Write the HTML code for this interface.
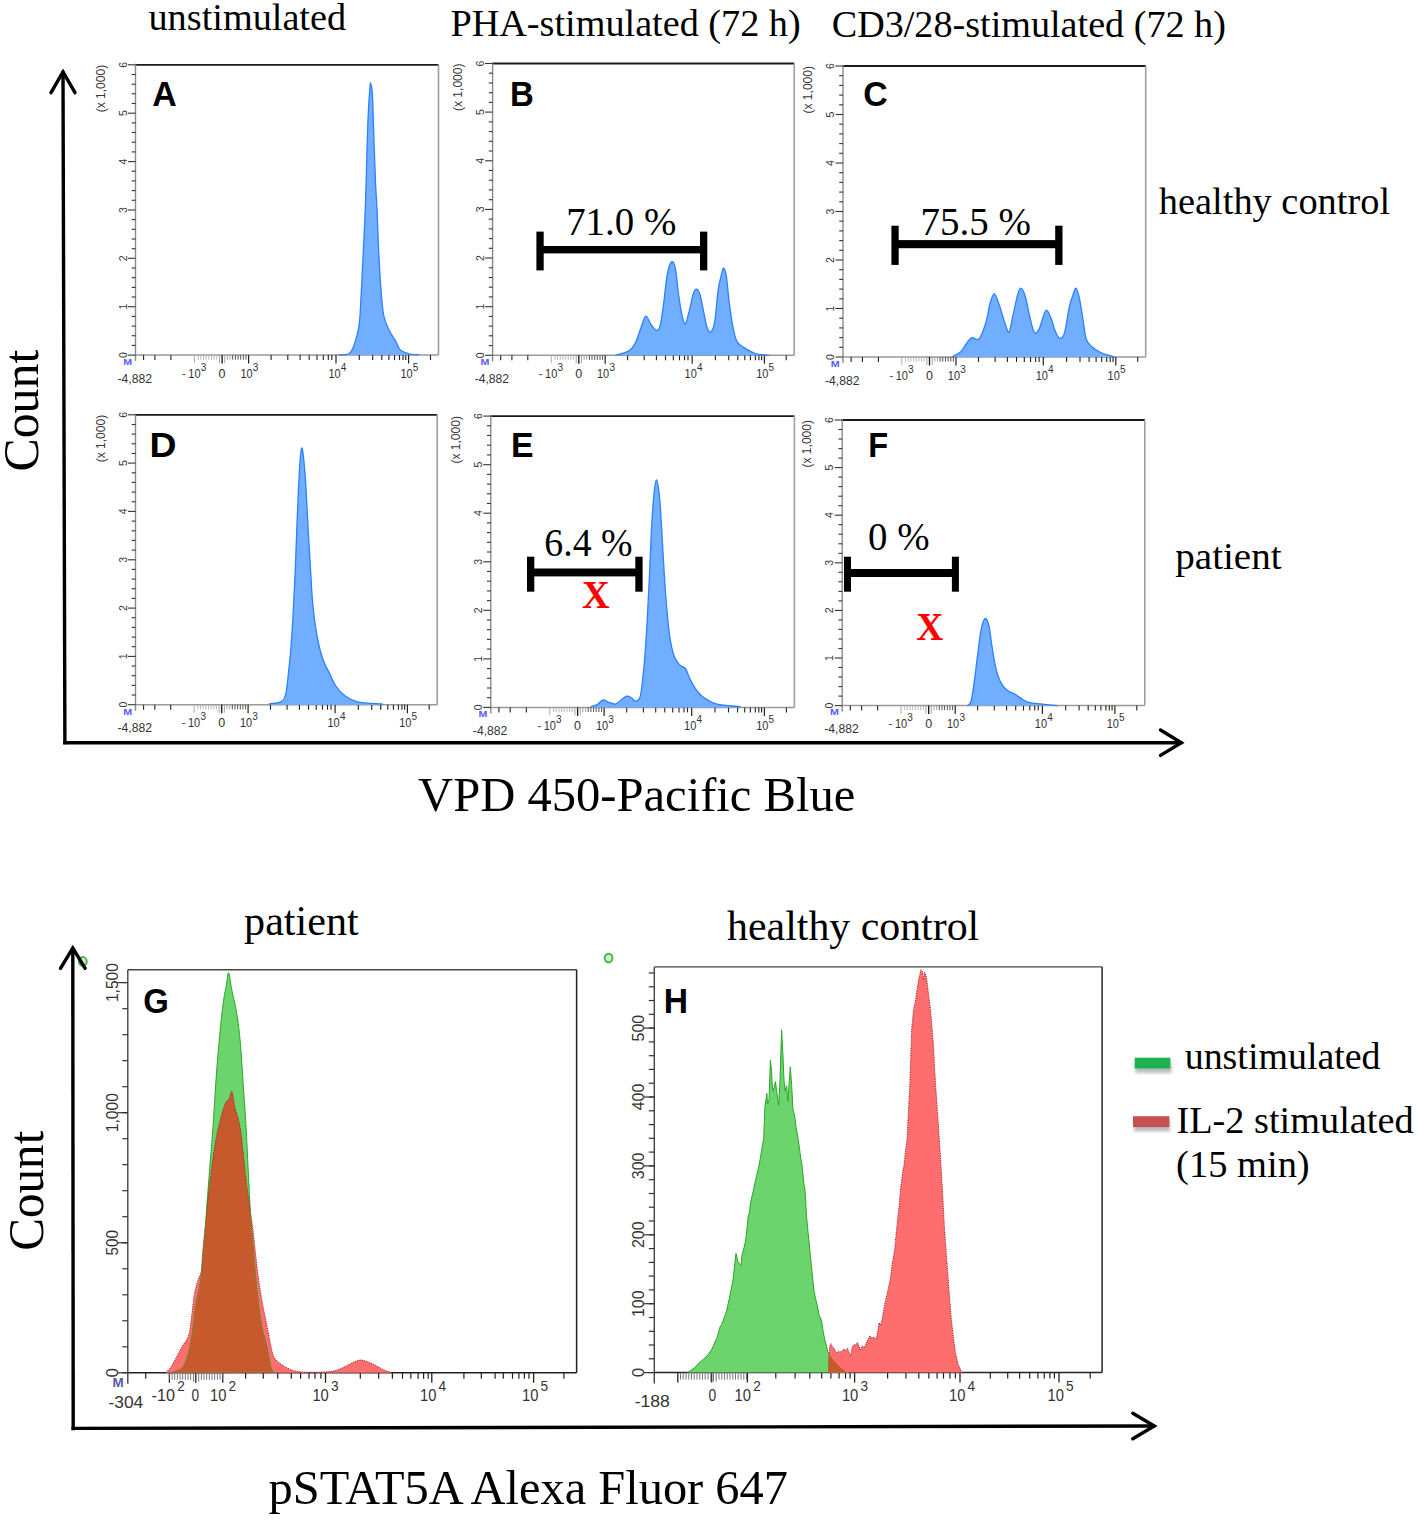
<!DOCTYPE html>
<html><head><meta charset="utf-8"><title>Figure</title>
<style>html,body{margin:0;padding:0;background:#fff;}body{width:1418px;height:1520px;overflow:hidden;}svg{display:block;}</style>
</head><body>
<svg width="1418" height="1520" viewBox="0 0 1418 1520">
<rect width="1418" height="1520" fill="#fff"/>
<text x="148.5" y="30.3" style="font-family:'Liberation Serif',serif;font-size:38px;font-weight:normal" fill="#000" text-anchor="start" textLength="197.6" lengthAdjust="spacingAndGlyphs" >unstimulated</text>
<text x="450.4" y="36.4" style="font-family:'Liberation Serif',serif;font-size:38px;font-weight:normal" fill="#000" text-anchor="start" textLength="350.3" lengthAdjust="spacingAndGlyphs" >PHA-stimulated (72 h)</text>
<text x="831.7" y="37.0" style="font-family:'Liberation Serif',serif;font-size:38px;font-weight:normal" fill="#000" text-anchor="start" textLength="394.2" lengthAdjust="spacingAndGlyphs" >CD3/28-stimulated (72 h)</text>
<text x="1158.8" y="214.1" style="font-family:'Liberation Serif',serif;font-size:38.2px;font-weight:normal" fill="#000" text-anchor="start" textLength="231.3" lengthAdjust="spacingAndGlyphs" >healthy control</text>
<text x="1175.3" y="569.4" style="font-family:'Liberation Serif',serif;font-size:38.7px;font-weight:normal" fill="#000" text-anchor="start" textLength="106.2" lengthAdjust="spacingAndGlyphs" >patient</text>
<text transform="translate(38.2,471.6) rotate(-90)" style="font-family:'Liberation Serif',serif;font-size:50px;font-weight:normal" fill="#000" text-anchor="start" textLength="121.9" lengthAdjust="spacingAndGlyphs">Count</text>
<text x="418.1" y="810.8" style="font-family:'Liberation Serif',serif;font-size:48.3px;font-weight:normal" fill="#000" text-anchor="start" textLength="437.2" lengthAdjust="spacingAndGlyphs" >VPD 450-Pacific Blue</text>
<line x1="135.5" y1="64.8" x2="438.5" y2="64.8" stroke="#1a1a1a" stroke-width="1.8" stroke-linecap="butt"/>
<line x1="438.5" y1="64.8" x2="438.5" y2="355.1" stroke="#a0a0a0" stroke-width="1.6" stroke-linecap="butt"/>
<line x1="135.5" y1="355.1" x2="438.5" y2="355.1" stroke="#9a9a9a" stroke-width="1.5" stroke-linecap="butt"/>
<line x1="135.5" y1="63.8" x2="135.5" y2="361.1" stroke="#8a8a8a" stroke-width="1.4" stroke-linecap="butt"/>
<line x1="128.0" y1="355.1" x2="135.5" y2="355.1" stroke="#333" stroke-width="1.1" stroke-linecap="butt"/>
<line x1="131.7" y1="345.4" x2="135.5" y2="345.4" stroke="#333" stroke-width="1.1" stroke-linecap="butt"/>
<line x1="131.7" y1="335.7" x2="135.5" y2="335.7" stroke="#333" stroke-width="1.1" stroke-linecap="butt"/>
<line x1="131.7" y1="326.1" x2="135.5" y2="326.1" stroke="#333" stroke-width="1.1" stroke-linecap="butt"/>
<line x1="131.7" y1="316.4" x2="135.5" y2="316.4" stroke="#333" stroke-width="1.1" stroke-linecap="butt"/>
<line x1="128.0" y1="306.7" x2="135.5" y2="306.7" stroke="#333" stroke-width="1.1" stroke-linecap="butt"/>
<line x1="131.7" y1="297.0" x2="135.5" y2="297.0" stroke="#333" stroke-width="1.1" stroke-linecap="butt"/>
<line x1="131.7" y1="287.4" x2="135.5" y2="287.4" stroke="#333" stroke-width="1.1" stroke-linecap="butt"/>
<line x1="131.7" y1="277.7" x2="135.5" y2="277.7" stroke="#333" stroke-width="1.1" stroke-linecap="butt"/>
<line x1="131.7" y1="268.0" x2="135.5" y2="268.0" stroke="#333" stroke-width="1.1" stroke-linecap="butt"/>
<line x1="128.0" y1="258.3" x2="135.5" y2="258.3" stroke="#333" stroke-width="1.1" stroke-linecap="butt"/>
<line x1="131.7" y1="248.7" x2="135.5" y2="248.7" stroke="#333" stroke-width="1.1" stroke-linecap="butt"/>
<line x1="131.7" y1="239.0" x2="135.5" y2="239.0" stroke="#333" stroke-width="1.1" stroke-linecap="butt"/>
<line x1="131.7" y1="229.3" x2="135.5" y2="229.3" stroke="#333" stroke-width="1.1" stroke-linecap="butt"/>
<line x1="131.7" y1="219.6" x2="135.5" y2="219.6" stroke="#333" stroke-width="1.1" stroke-linecap="butt"/>
<line x1="128.0" y1="210.0" x2="135.5" y2="210.0" stroke="#333" stroke-width="1.1" stroke-linecap="butt"/>
<line x1="131.7" y1="200.3" x2="135.5" y2="200.3" stroke="#333" stroke-width="1.1" stroke-linecap="butt"/>
<line x1="131.7" y1="190.6" x2="135.5" y2="190.6" stroke="#333" stroke-width="1.1" stroke-linecap="butt"/>
<line x1="131.7" y1="180.9" x2="135.5" y2="180.9" stroke="#333" stroke-width="1.1" stroke-linecap="butt"/>
<line x1="131.7" y1="171.2" x2="135.5" y2="171.2" stroke="#333" stroke-width="1.1" stroke-linecap="butt"/>
<line x1="128.0" y1="161.6" x2="135.5" y2="161.6" stroke="#333" stroke-width="1.1" stroke-linecap="butt"/>
<line x1="131.7" y1="151.9" x2="135.5" y2="151.9" stroke="#333" stroke-width="1.1" stroke-linecap="butt"/>
<line x1="131.7" y1="142.2" x2="135.5" y2="142.2" stroke="#333" stroke-width="1.1" stroke-linecap="butt"/>
<line x1="131.7" y1="132.5" x2="135.5" y2="132.5" stroke="#333" stroke-width="1.1" stroke-linecap="butt"/>
<line x1="131.7" y1="122.9" x2="135.5" y2="122.9" stroke="#333" stroke-width="1.1" stroke-linecap="butt"/>
<line x1="128.0" y1="113.2" x2="135.5" y2="113.2" stroke="#333" stroke-width="1.1" stroke-linecap="butt"/>
<line x1="131.7" y1="103.5" x2="135.5" y2="103.5" stroke="#333" stroke-width="1.1" stroke-linecap="butt"/>
<line x1="131.7" y1="93.8" x2="135.5" y2="93.8" stroke="#333" stroke-width="1.1" stroke-linecap="butt"/>
<line x1="131.7" y1="84.2" x2="135.5" y2="84.2" stroke="#333" stroke-width="1.1" stroke-linecap="butt"/>
<line x1="131.7" y1="74.5" x2="135.5" y2="74.5" stroke="#333" stroke-width="1.1" stroke-linecap="butt"/>
<line x1="128.0" y1="64.8" x2="135.5" y2="64.8" stroke="#333" stroke-width="1.1" stroke-linecap="butt"/>
<text transform="translate(126.5,355.1) rotate(-90)" style="font-family:'Liberation Sans',sans-serif;font-size:10.5px;font-weight:normal" fill="#333" text-anchor="middle">0</text>
<text transform="translate(126.5,306.7) rotate(-90)" style="font-family:'Liberation Sans',sans-serif;font-size:10.5px;font-weight:normal" fill="#333" text-anchor="middle">1</text>
<text transform="translate(126.5,258.3) rotate(-90)" style="font-family:'Liberation Sans',sans-serif;font-size:10.5px;font-weight:normal" fill="#333" text-anchor="middle">2</text>
<text transform="translate(126.5,210.0) rotate(-90)" style="font-family:'Liberation Sans',sans-serif;font-size:10.5px;font-weight:normal" fill="#333" text-anchor="middle">3</text>
<text transform="translate(126.5,161.6) rotate(-90)" style="font-family:'Liberation Sans',sans-serif;font-size:10.5px;font-weight:normal" fill="#333" text-anchor="middle">4</text>
<text transform="translate(126.5,113.2) rotate(-90)" style="font-family:'Liberation Sans',sans-serif;font-size:10.5px;font-weight:normal" fill="#333" text-anchor="middle">5</text>
<text transform="translate(126.5,64.8) rotate(-90)" style="font-family:'Liberation Sans',sans-serif;font-size:10.5px;font-weight:normal" fill="#333" text-anchor="middle">6</text>
<text transform="translate(104.7,112.3) rotate(-90)" style="font-family:'Liberation Sans',sans-serif;font-size:12px;font-weight:normal" fill="#333" text-anchor="start" textLength="47.5" lengthAdjust="spacingAndGlyphs">(x 1,000)</text>
<line x1="143.6" y1="355.1" x2="143.6" y2="360.1" stroke="#222" stroke-width="1.1" stroke-linecap="butt"/>
<line x1="154.9" y1="355.1" x2="154.9" y2="360.1" stroke="#222" stroke-width="1.1" stroke-linecap="butt"/>
<line x1="170.9" y1="355.1" x2="170.9" y2="360.1" stroke="#222" stroke-width="1.1" stroke-linecap="butt"/>
<line x1="271.1" y1="355.1" x2="271.1" y2="360.1" stroke="#222" stroke-width="1.1" stroke-linecap="butt"/>
<line x1="287.8" y1="355.1" x2="287.8" y2="360.1" stroke="#222" stroke-width="1.1" stroke-linecap="butt"/>
<line x1="300.1" y1="355.1" x2="300.1" y2="360.1" stroke="#222" stroke-width="1.1" stroke-linecap="butt"/>
<line x1="309.2" y1="355.1" x2="309.2" y2="360.1" stroke="#222" stroke-width="1.1" stroke-linecap="butt"/>
<line x1="317.0" y1="355.1" x2="317.0" y2="360.1" stroke="#222" stroke-width="1.1" stroke-linecap="butt"/>
<line x1="323.3" y1="355.1" x2="323.3" y2="360.1" stroke="#222" stroke-width="1.1" stroke-linecap="butt"/>
<line x1="328.3" y1="355.1" x2="328.3" y2="360.1" stroke="#222" stroke-width="1.1" stroke-linecap="butt"/>
<line x1="331.8" y1="355.1" x2="331.8" y2="360.1" stroke="#222" stroke-width="1.1" stroke-linecap="butt"/>
<line x1="359.3" y1="355.1" x2="359.3" y2="360.1" stroke="#222" stroke-width="1.1" stroke-linecap="butt"/>
<line x1="372.7" y1="355.1" x2="372.7" y2="360.1" stroke="#222" stroke-width="1.1" stroke-linecap="butt"/>
<line x1="381.8" y1="355.1" x2="381.8" y2="360.1" stroke="#222" stroke-width="1.1" stroke-linecap="butt"/>
<line x1="388.9" y1="355.1" x2="388.9" y2="360.1" stroke="#222" stroke-width="1.1" stroke-linecap="butt"/>
<line x1="394.5" y1="355.1" x2="394.5" y2="360.1" stroke="#222" stroke-width="1.1" stroke-linecap="butt"/>
<line x1="399.5" y1="355.1" x2="399.5" y2="360.1" stroke="#222" stroke-width="1.1" stroke-linecap="butt"/>
<line x1="403.0" y1="355.1" x2="403.0" y2="360.1" stroke="#222" stroke-width="1.1" stroke-linecap="butt"/>
<line x1="405.8" y1="355.1" x2="405.8" y2="360.1" stroke="#222" stroke-width="1.1" stroke-linecap="butt"/>
<line x1="430.5" y1="355.1" x2="430.5" y2="360.1" stroke="#222" stroke-width="1.1" stroke-linecap="butt"/>
<line x1="248.6" y1="355.1" x2="248.6" y2="363.6" stroke="#222" stroke-width="1.2" stroke-linecap="butt"/>
<line x1="336.0" y1="355.1" x2="336.0" y2="363.6" stroke="#222" stroke-width="1.2" stroke-linecap="butt"/>
<line x1="408.6" y1="355.1" x2="408.6" y2="363.6" stroke="#222" stroke-width="1.2" stroke-linecap="butt"/>
<line x1="198.2" y1="355.1" x2="198.2" y2="359.7" stroke="#b0b0b0" stroke-width="0.9" stroke-linecap="butt"/>
<line x1="200.8" y1="355.1" x2="200.8" y2="359.7" stroke="#b0b0b0" stroke-width="0.9" stroke-linecap="butt"/>
<line x1="203.5" y1="355.1" x2="203.5" y2="359.7" stroke="#b0b0b0" stroke-width="0.9" stroke-linecap="butt"/>
<line x1="206.1" y1="355.1" x2="206.1" y2="359.7" stroke="#b0b0b0" stroke-width="0.9" stroke-linecap="butt"/>
<line x1="208.8" y1="355.1" x2="208.8" y2="359.7" stroke="#b0b0b0" stroke-width="0.9" stroke-linecap="butt"/>
<line x1="211.5" y1="355.1" x2="211.5" y2="359.7" stroke="#b0b0b0" stroke-width="0.9" stroke-linecap="butt"/>
<line x1="214.1" y1="355.1" x2="214.1" y2="359.7" stroke="#b0b0b0" stroke-width="0.9" stroke-linecap="butt"/>
<line x1="216.8" y1="355.1" x2="216.8" y2="359.7" stroke="#b0b0b0" stroke-width="0.9" stroke-linecap="butt"/>
<line x1="219.4" y1="355.1" x2="219.4" y2="363.1" stroke="#999" stroke-width="0.9" stroke-linecap="butt"/>
<line x1="224.8" y1="355.1" x2="224.8" y2="363.1" stroke="#999" stroke-width="0.9" stroke-linecap="butt"/>
<line x1="227.4" y1="355.1" x2="227.4" y2="359.7" stroke="#999" stroke-width="0.9" stroke-linecap="butt"/>
<line x1="230.1" y1="355.1" x2="230.1" y2="359.7" stroke="#999" stroke-width="0.9" stroke-linecap="butt"/>
<line x1="232.7" y1="355.1" x2="232.7" y2="359.7" stroke="#444" stroke-width="0.9" stroke-linecap="butt"/>
<line x1="235.4" y1="355.1" x2="235.4" y2="359.7" stroke="#444" stroke-width="0.9" stroke-linecap="butt"/>
<line x1="238.1" y1="355.1" x2="238.1" y2="359.7" stroke="#444" stroke-width="0.9" stroke-linecap="butt"/>
<line x1="240.7" y1="355.1" x2="240.7" y2="359.7" stroke="#444" stroke-width="0.9" stroke-linecap="butt"/>
<line x1="243.4" y1="355.1" x2="243.4" y2="359.7" stroke="#444" stroke-width="0.9" stroke-linecap="butt"/>
<line x1="246.0" y1="355.1" x2="246.0" y2="359.7" stroke="#444" stroke-width="0.9" stroke-linecap="butt"/>
<line x1="194.4" y1="355.1" x2="194.4" y2="363.1" stroke="#aaa" stroke-width="1.0" stroke-linecap="butt"/>
<line x1="222.1" y1="355.1" x2="222.1" y2="363.6" stroke="#111" stroke-width="1.3" stroke-linecap="butt"/>
<text x="134.8" y="382.7" style="font-family:'Liberation Sans',sans-serif;font-size:12.5px;font-weight:normal" fill="#333" text-anchor="middle" textLength="34.5" lengthAdjust="spacingAndGlyphs" >-4,882</text>
<text x="185.9" y="377.7" style="font-family:'Liberation Sans',sans-serif;font-size:12.5px;font-weight:normal" fill="#555" text-anchor="end" >-</text>
<text x="194.4" y="377.7" style="font-family:'Liberation Sans',sans-serif;font-size:12.5px;font-weight:normal" fill="#333" text-anchor="middle" textLength="12.2" lengthAdjust="spacingAndGlyphs" >10</text>
<text x="200.7" y="370.7" style="font-family:'Liberation Sans',sans-serif;font-size:10px;font-weight:normal" fill="#333" text-anchor="start" >3</text>
<text x="222.1" y="377.7" style="font-family:'Liberation Sans',sans-serif;font-size:12.5px;font-weight:normal" fill="#333" text-anchor="middle" >0</text>
<text x="246.5" y="377.7" style="font-family:'Liberation Sans',sans-serif;font-size:12.5px;font-weight:normal" fill="#333" text-anchor="middle" textLength="12.2" lengthAdjust="spacingAndGlyphs" >10</text>
<text x="252.8" y="370.7" style="font-family:'Liberation Sans',sans-serif;font-size:10px;font-weight:normal" fill="#333" text-anchor="start" >3</text>
<text x="334.5" y="377.7" style="font-family:'Liberation Sans',sans-serif;font-size:12.5px;font-weight:normal" fill="#333" text-anchor="middle" textLength="12.2" lengthAdjust="spacingAndGlyphs" >10</text>
<text x="340.8" y="370.7" style="font-family:'Liberation Sans',sans-serif;font-size:10px;font-weight:normal" fill="#333" text-anchor="start" >4</text>
<text x="406.5" y="377.7" style="font-family:'Liberation Sans',sans-serif;font-size:12.5px;font-weight:normal" fill="#333" text-anchor="middle" textLength="12.2" lengthAdjust="spacingAndGlyphs" >10</text>
<text x="412.8" y="370.7" style="font-family:'Liberation Sans',sans-serif;font-size:10px;font-weight:normal" fill="#333" text-anchor="start" >5</text>
<text x="123.3" y="364.9" style="font-family:'Liberation Sans',sans-serif;font-size:9.5px;font-weight:bold" fill="#5a5aff" text-anchor="start" textLength="8.9" lengthAdjust="spacingAndGlyphs" >M</text>
<text x="152.2" y="106.3" style="font-family:'Liberation Sans',sans-serif;font-size:34.3px;font-weight:bold" fill="#000" text-anchor="start" textLength="24.5" lengthAdjust="spacingAndGlyphs" >A</text>
<line x1="492.6" y1="63.5" x2="794.2" y2="63.5" stroke="#1a1a1a" stroke-width="1.8" stroke-linecap="butt"/>
<line x1="794.2" y1="63.5" x2="794.2" y2="355.3" stroke="#a0a0a0" stroke-width="1.6" stroke-linecap="butt"/>
<line x1="492.6" y1="355.3" x2="794.2" y2="355.3" stroke="#9a9a9a" stroke-width="1.5" stroke-linecap="butt"/>
<line x1="492.6" y1="62.5" x2="492.6" y2="361.3" stroke="#8a8a8a" stroke-width="1.4" stroke-linecap="butt"/>
<line x1="485.1" y1="355.3" x2="492.6" y2="355.3" stroke="#333" stroke-width="1.1" stroke-linecap="butt"/>
<line x1="488.8" y1="345.6" x2="492.6" y2="345.6" stroke="#333" stroke-width="1.1" stroke-linecap="butt"/>
<line x1="488.8" y1="335.8" x2="492.6" y2="335.8" stroke="#333" stroke-width="1.1" stroke-linecap="butt"/>
<line x1="488.8" y1="326.1" x2="492.6" y2="326.1" stroke="#333" stroke-width="1.1" stroke-linecap="butt"/>
<line x1="488.8" y1="316.4" x2="492.6" y2="316.4" stroke="#333" stroke-width="1.1" stroke-linecap="butt"/>
<line x1="485.1" y1="306.7" x2="492.6" y2="306.7" stroke="#333" stroke-width="1.1" stroke-linecap="butt"/>
<line x1="488.8" y1="296.9" x2="492.6" y2="296.9" stroke="#333" stroke-width="1.1" stroke-linecap="butt"/>
<line x1="488.8" y1="287.2" x2="492.6" y2="287.2" stroke="#333" stroke-width="1.1" stroke-linecap="butt"/>
<line x1="488.8" y1="277.5" x2="492.6" y2="277.5" stroke="#333" stroke-width="1.1" stroke-linecap="butt"/>
<line x1="488.8" y1="267.8" x2="492.6" y2="267.8" stroke="#333" stroke-width="1.1" stroke-linecap="butt"/>
<line x1="485.1" y1="258.0" x2="492.6" y2="258.0" stroke="#333" stroke-width="1.1" stroke-linecap="butt"/>
<line x1="488.8" y1="248.3" x2="492.6" y2="248.3" stroke="#333" stroke-width="1.1" stroke-linecap="butt"/>
<line x1="488.8" y1="238.6" x2="492.6" y2="238.6" stroke="#333" stroke-width="1.1" stroke-linecap="butt"/>
<line x1="488.8" y1="228.9" x2="492.6" y2="228.9" stroke="#333" stroke-width="1.1" stroke-linecap="butt"/>
<line x1="488.8" y1="219.1" x2="492.6" y2="219.1" stroke="#333" stroke-width="1.1" stroke-linecap="butt"/>
<line x1="485.1" y1="209.4" x2="492.6" y2="209.4" stroke="#333" stroke-width="1.1" stroke-linecap="butt"/>
<line x1="488.8" y1="199.7" x2="492.6" y2="199.7" stroke="#333" stroke-width="1.1" stroke-linecap="butt"/>
<line x1="488.8" y1="189.9" x2="492.6" y2="189.9" stroke="#333" stroke-width="1.1" stroke-linecap="butt"/>
<line x1="488.8" y1="180.2" x2="492.6" y2="180.2" stroke="#333" stroke-width="1.1" stroke-linecap="butt"/>
<line x1="488.8" y1="170.5" x2="492.6" y2="170.5" stroke="#333" stroke-width="1.1" stroke-linecap="butt"/>
<line x1="485.1" y1="160.8" x2="492.6" y2="160.8" stroke="#333" stroke-width="1.1" stroke-linecap="butt"/>
<line x1="488.8" y1="151.0" x2="492.6" y2="151.0" stroke="#333" stroke-width="1.1" stroke-linecap="butt"/>
<line x1="488.8" y1="141.3" x2="492.6" y2="141.3" stroke="#333" stroke-width="1.1" stroke-linecap="butt"/>
<line x1="488.8" y1="131.6" x2="492.6" y2="131.6" stroke="#333" stroke-width="1.1" stroke-linecap="butt"/>
<line x1="488.8" y1="121.9" x2="492.6" y2="121.9" stroke="#333" stroke-width="1.1" stroke-linecap="butt"/>
<line x1="485.1" y1="112.1" x2="492.6" y2="112.1" stroke="#333" stroke-width="1.1" stroke-linecap="butt"/>
<line x1="488.8" y1="102.4" x2="492.6" y2="102.4" stroke="#333" stroke-width="1.1" stroke-linecap="butt"/>
<line x1="488.8" y1="92.7" x2="492.6" y2="92.7" stroke="#333" stroke-width="1.1" stroke-linecap="butt"/>
<line x1="488.8" y1="83.0" x2="492.6" y2="83.0" stroke="#333" stroke-width="1.1" stroke-linecap="butt"/>
<line x1="488.8" y1="73.2" x2="492.6" y2="73.2" stroke="#333" stroke-width="1.1" stroke-linecap="butt"/>
<line x1="485.1" y1="63.5" x2="492.6" y2="63.5" stroke="#333" stroke-width="1.1" stroke-linecap="butt"/>
<text transform="translate(483.6,355.3) rotate(-90)" style="font-family:'Liberation Sans',sans-serif;font-size:10.5px;font-weight:normal" fill="#333" text-anchor="middle">0</text>
<text transform="translate(483.6,306.7) rotate(-90)" style="font-family:'Liberation Sans',sans-serif;font-size:10.5px;font-weight:normal" fill="#333" text-anchor="middle">1</text>
<text transform="translate(483.6,258.0) rotate(-90)" style="font-family:'Liberation Sans',sans-serif;font-size:10.5px;font-weight:normal" fill="#333" text-anchor="middle">2</text>
<text transform="translate(483.6,209.4) rotate(-90)" style="font-family:'Liberation Sans',sans-serif;font-size:10.5px;font-weight:normal" fill="#333" text-anchor="middle">3</text>
<text transform="translate(483.6,160.8) rotate(-90)" style="font-family:'Liberation Sans',sans-serif;font-size:10.5px;font-weight:normal" fill="#333" text-anchor="middle">4</text>
<text transform="translate(483.6,112.1) rotate(-90)" style="font-family:'Liberation Sans',sans-serif;font-size:10.5px;font-weight:normal" fill="#333" text-anchor="middle">5</text>
<text transform="translate(483.6,63.5) rotate(-90)" style="font-family:'Liberation Sans',sans-serif;font-size:10.5px;font-weight:normal" fill="#333" text-anchor="middle">6</text>
<text transform="translate(461.8,111.0) rotate(-90)" style="font-family:'Liberation Sans',sans-serif;font-size:12px;font-weight:normal" fill="#333" text-anchor="start" textLength="47.5" lengthAdjust="spacingAndGlyphs">(x 1,000)</text>
<line x1="500.7" y1="355.3" x2="500.7" y2="360.3" stroke="#222" stroke-width="1.1" stroke-linecap="butt"/>
<line x1="511.9" y1="355.3" x2="511.9" y2="360.3" stroke="#222" stroke-width="1.1" stroke-linecap="butt"/>
<line x1="527.8" y1="355.3" x2="527.8" y2="360.3" stroke="#222" stroke-width="1.1" stroke-linecap="butt"/>
<line x1="627.6" y1="355.3" x2="627.6" y2="360.3" stroke="#222" stroke-width="1.1" stroke-linecap="butt"/>
<line x1="644.2" y1="355.3" x2="644.2" y2="360.3" stroke="#222" stroke-width="1.1" stroke-linecap="butt"/>
<line x1="656.4" y1="355.3" x2="656.4" y2="360.3" stroke="#222" stroke-width="1.1" stroke-linecap="butt"/>
<line x1="665.5" y1="355.3" x2="665.5" y2="360.3" stroke="#222" stroke-width="1.1" stroke-linecap="butt"/>
<line x1="673.3" y1="355.3" x2="673.3" y2="360.3" stroke="#222" stroke-width="1.1" stroke-linecap="butt"/>
<line x1="679.5" y1="355.3" x2="679.5" y2="360.3" stroke="#222" stroke-width="1.1" stroke-linecap="butt"/>
<line x1="684.5" y1="355.3" x2="684.5" y2="360.3" stroke="#222" stroke-width="1.1" stroke-linecap="butt"/>
<line x1="688.0" y1="355.3" x2="688.0" y2="360.3" stroke="#222" stroke-width="1.1" stroke-linecap="butt"/>
<line x1="715.4" y1="355.3" x2="715.4" y2="360.3" stroke="#222" stroke-width="1.1" stroke-linecap="butt"/>
<line x1="728.7" y1="355.3" x2="728.7" y2="360.3" stroke="#222" stroke-width="1.1" stroke-linecap="butt"/>
<line x1="737.8" y1="355.3" x2="737.8" y2="360.3" stroke="#222" stroke-width="1.1" stroke-linecap="butt"/>
<line x1="744.8" y1="355.3" x2="744.8" y2="360.3" stroke="#222" stroke-width="1.1" stroke-linecap="butt"/>
<line x1="750.4" y1="355.3" x2="750.4" y2="360.3" stroke="#222" stroke-width="1.1" stroke-linecap="butt"/>
<line x1="755.4" y1="355.3" x2="755.4" y2="360.3" stroke="#222" stroke-width="1.1" stroke-linecap="butt"/>
<line x1="758.9" y1="355.3" x2="758.9" y2="360.3" stroke="#222" stroke-width="1.1" stroke-linecap="butt"/>
<line x1="761.7" y1="355.3" x2="761.7" y2="360.3" stroke="#222" stroke-width="1.1" stroke-linecap="butt"/>
<line x1="786.2" y1="355.3" x2="786.2" y2="360.3" stroke="#222" stroke-width="1.1" stroke-linecap="butt"/>
<line x1="605.2" y1="355.3" x2="605.2" y2="363.8" stroke="#222" stroke-width="1.2" stroke-linecap="butt"/>
<line x1="692.2" y1="355.3" x2="692.2" y2="363.8" stroke="#222" stroke-width="1.2" stroke-linecap="butt"/>
<line x1="764.4" y1="355.3" x2="764.4" y2="363.8" stroke="#222" stroke-width="1.2" stroke-linecap="butt"/>
<line x1="555.0" y1="355.3" x2="555.0" y2="359.9" stroke="#b0b0b0" stroke-width="0.9" stroke-linecap="butt"/>
<line x1="557.6" y1="355.3" x2="557.6" y2="359.9" stroke="#b0b0b0" stroke-width="0.9" stroke-linecap="butt"/>
<line x1="560.3" y1="355.3" x2="560.3" y2="359.9" stroke="#b0b0b0" stroke-width="0.9" stroke-linecap="butt"/>
<line x1="562.9" y1="355.3" x2="562.9" y2="359.9" stroke="#b0b0b0" stroke-width="0.9" stroke-linecap="butt"/>
<line x1="565.6" y1="355.3" x2="565.6" y2="359.9" stroke="#b0b0b0" stroke-width="0.9" stroke-linecap="butt"/>
<line x1="568.2" y1="355.3" x2="568.2" y2="359.9" stroke="#b0b0b0" stroke-width="0.9" stroke-linecap="butt"/>
<line x1="570.9" y1="355.3" x2="570.9" y2="359.9" stroke="#b0b0b0" stroke-width="0.9" stroke-linecap="butt"/>
<line x1="573.5" y1="355.3" x2="573.5" y2="359.9" stroke="#b0b0b0" stroke-width="0.9" stroke-linecap="butt"/>
<line x1="576.2" y1="355.3" x2="576.2" y2="363.3" stroke="#999" stroke-width="0.9" stroke-linecap="butt"/>
<line x1="581.4" y1="355.3" x2="581.4" y2="363.3" stroke="#999" stroke-width="0.9" stroke-linecap="butt"/>
<line x1="584.1" y1="355.3" x2="584.1" y2="359.9" stroke="#999" stroke-width="0.9" stroke-linecap="butt"/>
<line x1="586.7" y1="355.3" x2="586.7" y2="359.9" stroke="#999" stroke-width="0.9" stroke-linecap="butt"/>
<line x1="589.4" y1="355.3" x2="589.4" y2="359.9" stroke="#444" stroke-width="0.9" stroke-linecap="butt"/>
<line x1="592.0" y1="355.3" x2="592.0" y2="359.9" stroke="#444" stroke-width="0.9" stroke-linecap="butt"/>
<line x1="594.7" y1="355.3" x2="594.7" y2="359.9" stroke="#444" stroke-width="0.9" stroke-linecap="butt"/>
<line x1="597.3" y1="355.3" x2="597.3" y2="359.9" stroke="#444" stroke-width="0.9" stroke-linecap="butt"/>
<line x1="600.0" y1="355.3" x2="600.0" y2="359.9" stroke="#444" stroke-width="0.9" stroke-linecap="butt"/>
<line x1="602.6" y1="355.3" x2="602.6" y2="359.9" stroke="#444" stroke-width="0.9" stroke-linecap="butt"/>
<line x1="551.2" y1="355.3" x2="551.2" y2="363.3" stroke="#aaa" stroke-width="1.0" stroke-linecap="butt"/>
<line x1="578.8" y1="355.3" x2="578.8" y2="363.8" stroke="#111" stroke-width="1.3" stroke-linecap="butt"/>
<text x="491.9" y="382.9" style="font-family:'Liberation Sans',sans-serif;font-size:12.5px;font-weight:normal" fill="#333" text-anchor="middle" textLength="34.5" lengthAdjust="spacingAndGlyphs" >-4,882</text>
<text x="542.7" y="377.9" style="font-family:'Liberation Sans',sans-serif;font-size:12.5px;font-weight:normal" fill="#555" text-anchor="end" >-</text>
<text x="551.2" y="377.9" style="font-family:'Liberation Sans',sans-serif;font-size:12.5px;font-weight:normal" fill="#333" text-anchor="middle" textLength="12.2" lengthAdjust="spacingAndGlyphs" >10</text>
<text x="557.5" y="370.9" style="font-family:'Liberation Sans',sans-serif;font-size:10px;font-weight:normal" fill="#333" text-anchor="start" >3</text>
<text x="578.8" y="377.9" style="font-family:'Liberation Sans',sans-serif;font-size:12.5px;font-weight:normal" fill="#333" text-anchor="middle" >0</text>
<text x="603.1" y="377.9" style="font-family:'Liberation Sans',sans-serif;font-size:12.5px;font-weight:normal" fill="#333" text-anchor="middle" textLength="12.2" lengthAdjust="spacingAndGlyphs" >10</text>
<text x="609.4" y="370.9" style="font-family:'Liberation Sans',sans-serif;font-size:10px;font-weight:normal" fill="#333" text-anchor="start" >3</text>
<text x="690.7" y="377.9" style="font-family:'Liberation Sans',sans-serif;font-size:12.5px;font-weight:normal" fill="#333" text-anchor="middle" textLength="12.2" lengthAdjust="spacingAndGlyphs" >10</text>
<text x="697.0" y="370.9" style="font-family:'Liberation Sans',sans-serif;font-size:10px;font-weight:normal" fill="#333" text-anchor="start" >4</text>
<text x="762.3" y="377.9" style="font-family:'Liberation Sans',sans-serif;font-size:12.5px;font-weight:normal" fill="#333" text-anchor="middle" textLength="12.2" lengthAdjust="spacingAndGlyphs" >10</text>
<text x="768.6" y="370.9" style="font-family:'Liberation Sans',sans-serif;font-size:10px;font-weight:normal" fill="#333" text-anchor="start" >5</text>
<text x="480.4" y="365.1" style="font-family:'Liberation Sans',sans-serif;font-size:9.5px;font-weight:bold" fill="#5a5aff" text-anchor="start" textLength="8.9" lengthAdjust="spacingAndGlyphs" >M</text>
<text x="509.9" y="106.0" style="font-family:'Liberation Sans',sans-serif;font-size:34.3px;font-weight:bold" fill="#000" text-anchor="start" textLength="23.8" lengthAdjust="spacingAndGlyphs" >B</text>
<line x1="843.0" y1="66.0" x2="1145.7" y2="66.0" stroke="#1a1a1a" stroke-width="1.8" stroke-linecap="butt"/>
<line x1="1145.7" y1="66.0" x2="1145.7" y2="357.0" stroke="#a0a0a0" stroke-width="1.6" stroke-linecap="butt"/>
<line x1="843.0" y1="357.0" x2="1145.7" y2="357.0" stroke="#9a9a9a" stroke-width="1.5" stroke-linecap="butt"/>
<line x1="843.0" y1="65.0" x2="843.0" y2="363.0" stroke="#8a8a8a" stroke-width="1.4" stroke-linecap="butt"/>
<line x1="835.5" y1="357.0" x2="843.0" y2="357.0" stroke="#333" stroke-width="1.1" stroke-linecap="butt"/>
<line x1="839.2" y1="347.3" x2="843.0" y2="347.3" stroke="#333" stroke-width="1.1" stroke-linecap="butt"/>
<line x1="839.2" y1="337.6" x2="843.0" y2="337.6" stroke="#333" stroke-width="1.1" stroke-linecap="butt"/>
<line x1="839.2" y1="327.9" x2="843.0" y2="327.9" stroke="#333" stroke-width="1.1" stroke-linecap="butt"/>
<line x1="839.2" y1="318.2" x2="843.0" y2="318.2" stroke="#333" stroke-width="1.1" stroke-linecap="butt"/>
<line x1="835.5" y1="308.5" x2="843.0" y2="308.5" stroke="#333" stroke-width="1.1" stroke-linecap="butt"/>
<line x1="839.2" y1="298.8" x2="843.0" y2="298.8" stroke="#333" stroke-width="1.1" stroke-linecap="butt"/>
<line x1="839.2" y1="289.1" x2="843.0" y2="289.1" stroke="#333" stroke-width="1.1" stroke-linecap="butt"/>
<line x1="839.2" y1="279.4" x2="843.0" y2="279.4" stroke="#333" stroke-width="1.1" stroke-linecap="butt"/>
<line x1="839.2" y1="269.7" x2="843.0" y2="269.7" stroke="#333" stroke-width="1.1" stroke-linecap="butt"/>
<line x1="835.5" y1="260.0" x2="843.0" y2="260.0" stroke="#333" stroke-width="1.1" stroke-linecap="butt"/>
<line x1="839.2" y1="250.3" x2="843.0" y2="250.3" stroke="#333" stroke-width="1.1" stroke-linecap="butt"/>
<line x1="839.2" y1="240.6" x2="843.0" y2="240.6" stroke="#333" stroke-width="1.1" stroke-linecap="butt"/>
<line x1="839.2" y1="230.9" x2="843.0" y2="230.9" stroke="#333" stroke-width="1.1" stroke-linecap="butt"/>
<line x1="839.2" y1="221.2" x2="843.0" y2="221.2" stroke="#333" stroke-width="1.1" stroke-linecap="butt"/>
<line x1="835.5" y1="211.5" x2="843.0" y2="211.5" stroke="#333" stroke-width="1.1" stroke-linecap="butt"/>
<line x1="839.2" y1="201.8" x2="843.0" y2="201.8" stroke="#333" stroke-width="1.1" stroke-linecap="butt"/>
<line x1="839.2" y1="192.1" x2="843.0" y2="192.1" stroke="#333" stroke-width="1.1" stroke-linecap="butt"/>
<line x1="839.2" y1="182.4" x2="843.0" y2="182.4" stroke="#333" stroke-width="1.1" stroke-linecap="butt"/>
<line x1="839.2" y1="172.7" x2="843.0" y2="172.7" stroke="#333" stroke-width="1.1" stroke-linecap="butt"/>
<line x1="835.5" y1="163.0" x2="843.0" y2="163.0" stroke="#333" stroke-width="1.1" stroke-linecap="butt"/>
<line x1="839.2" y1="153.3" x2="843.0" y2="153.3" stroke="#333" stroke-width="1.1" stroke-linecap="butt"/>
<line x1="839.2" y1="143.6" x2="843.0" y2="143.6" stroke="#333" stroke-width="1.1" stroke-linecap="butt"/>
<line x1="839.2" y1="133.9" x2="843.0" y2="133.9" stroke="#333" stroke-width="1.1" stroke-linecap="butt"/>
<line x1="839.2" y1="124.2" x2="843.0" y2="124.2" stroke="#333" stroke-width="1.1" stroke-linecap="butt"/>
<line x1="835.5" y1="114.5" x2="843.0" y2="114.5" stroke="#333" stroke-width="1.1" stroke-linecap="butt"/>
<line x1="839.2" y1="104.8" x2="843.0" y2="104.8" stroke="#333" stroke-width="1.1" stroke-linecap="butt"/>
<line x1="839.2" y1="95.1" x2="843.0" y2="95.1" stroke="#333" stroke-width="1.1" stroke-linecap="butt"/>
<line x1="839.2" y1="85.4" x2="843.0" y2="85.4" stroke="#333" stroke-width="1.1" stroke-linecap="butt"/>
<line x1="839.2" y1="75.7" x2="843.0" y2="75.7" stroke="#333" stroke-width="1.1" stroke-linecap="butt"/>
<line x1="835.5" y1="66.0" x2="843.0" y2="66.0" stroke="#333" stroke-width="1.1" stroke-linecap="butt"/>
<text transform="translate(834.0,357.0) rotate(-90)" style="font-family:'Liberation Sans',sans-serif;font-size:10.5px;font-weight:normal" fill="#333" text-anchor="middle">0</text>
<text transform="translate(834.0,308.5) rotate(-90)" style="font-family:'Liberation Sans',sans-serif;font-size:10.5px;font-weight:normal" fill="#333" text-anchor="middle">1</text>
<text transform="translate(834.0,260.0) rotate(-90)" style="font-family:'Liberation Sans',sans-serif;font-size:10.5px;font-weight:normal" fill="#333" text-anchor="middle">2</text>
<text transform="translate(834.0,211.5) rotate(-90)" style="font-family:'Liberation Sans',sans-serif;font-size:10.5px;font-weight:normal" fill="#333" text-anchor="middle">3</text>
<text transform="translate(834.0,163.0) rotate(-90)" style="font-family:'Liberation Sans',sans-serif;font-size:10.5px;font-weight:normal" fill="#333" text-anchor="middle">4</text>
<text transform="translate(834.0,114.5) rotate(-90)" style="font-family:'Liberation Sans',sans-serif;font-size:10.5px;font-weight:normal" fill="#333" text-anchor="middle">5</text>
<text transform="translate(834.0,66.0) rotate(-90)" style="font-family:'Liberation Sans',sans-serif;font-size:10.5px;font-weight:normal" fill="#333" text-anchor="middle">6</text>
<text transform="translate(812.2,113.5) rotate(-90)" style="font-family:'Liberation Sans',sans-serif;font-size:12px;font-weight:normal" fill="#333" text-anchor="start" textLength="47.5" lengthAdjust="spacingAndGlyphs">(x 1,000)</text>
<line x1="851.1" y1="357.0" x2="851.1" y2="362.0" stroke="#222" stroke-width="1.1" stroke-linecap="butt"/>
<line x1="862.4" y1="357.0" x2="862.4" y2="362.0" stroke="#222" stroke-width="1.1" stroke-linecap="butt"/>
<line x1="878.4" y1="357.0" x2="878.4" y2="362.0" stroke="#222" stroke-width="1.1" stroke-linecap="butt"/>
<line x1="978.5" y1="357.0" x2="978.5" y2="362.0" stroke="#222" stroke-width="1.1" stroke-linecap="butt"/>
<line x1="995.1" y1="357.0" x2="995.1" y2="362.0" stroke="#222" stroke-width="1.1" stroke-linecap="butt"/>
<line x1="1007.4" y1="357.0" x2="1007.4" y2="362.0" stroke="#222" stroke-width="1.1" stroke-linecap="butt"/>
<line x1="1016.5" y1="357.0" x2="1016.5" y2="362.0" stroke="#222" stroke-width="1.1" stroke-linecap="butt"/>
<line x1="1024.3" y1="357.0" x2="1024.3" y2="362.0" stroke="#222" stroke-width="1.1" stroke-linecap="butt"/>
<line x1="1030.6" y1="357.0" x2="1030.6" y2="362.0" stroke="#222" stroke-width="1.1" stroke-linecap="butt"/>
<line x1="1035.6" y1="357.0" x2="1035.6" y2="362.0" stroke="#222" stroke-width="1.1" stroke-linecap="butt"/>
<line x1="1039.1" y1="357.0" x2="1039.1" y2="362.0" stroke="#222" stroke-width="1.1" stroke-linecap="butt"/>
<line x1="1066.6" y1="357.0" x2="1066.6" y2="362.0" stroke="#222" stroke-width="1.1" stroke-linecap="butt"/>
<line x1="1080.0" y1="357.0" x2="1080.0" y2="362.0" stroke="#222" stroke-width="1.1" stroke-linecap="butt"/>
<line x1="1089.1" y1="357.0" x2="1089.1" y2="362.0" stroke="#222" stroke-width="1.1" stroke-linecap="butt"/>
<line x1="1096.1" y1="357.0" x2="1096.1" y2="362.0" stroke="#222" stroke-width="1.1" stroke-linecap="butt"/>
<line x1="1101.7" y1="357.0" x2="1101.7" y2="362.0" stroke="#222" stroke-width="1.1" stroke-linecap="butt"/>
<line x1="1106.7" y1="357.0" x2="1106.7" y2="362.0" stroke="#222" stroke-width="1.1" stroke-linecap="butt"/>
<line x1="1110.2" y1="357.0" x2="1110.2" y2="362.0" stroke="#222" stroke-width="1.1" stroke-linecap="butt"/>
<line x1="1113.0" y1="357.0" x2="1113.0" y2="362.0" stroke="#222" stroke-width="1.1" stroke-linecap="butt"/>
<line x1="1137.7" y1="357.0" x2="1137.7" y2="362.0" stroke="#222" stroke-width="1.1" stroke-linecap="butt"/>
<line x1="956.0" y1="357.0" x2="956.0" y2="365.5" stroke="#222" stroke-width="1.2" stroke-linecap="butt"/>
<line x1="1043.3" y1="357.0" x2="1043.3" y2="365.5" stroke="#222" stroke-width="1.2" stroke-linecap="butt"/>
<line x1="1115.8" y1="357.0" x2="1115.8" y2="365.5" stroke="#222" stroke-width="1.2" stroke-linecap="butt"/>
<line x1="905.6" y1="357.0" x2="905.6" y2="361.6" stroke="#b0b0b0" stroke-width="0.9" stroke-linecap="butt"/>
<line x1="908.3" y1="357.0" x2="908.3" y2="361.6" stroke="#b0b0b0" stroke-width="0.9" stroke-linecap="butt"/>
<line x1="910.9" y1="357.0" x2="910.9" y2="361.6" stroke="#b0b0b0" stroke-width="0.9" stroke-linecap="butt"/>
<line x1="913.6" y1="357.0" x2="913.6" y2="361.6" stroke="#b0b0b0" stroke-width="0.9" stroke-linecap="butt"/>
<line x1="916.2" y1="357.0" x2="916.2" y2="361.6" stroke="#b0b0b0" stroke-width="0.9" stroke-linecap="butt"/>
<line x1="918.9" y1="357.0" x2="918.9" y2="361.6" stroke="#b0b0b0" stroke-width="0.9" stroke-linecap="butt"/>
<line x1="921.5" y1="357.0" x2="921.5" y2="361.6" stroke="#b0b0b0" stroke-width="0.9" stroke-linecap="butt"/>
<line x1="924.2" y1="357.0" x2="924.2" y2="361.6" stroke="#b0b0b0" stroke-width="0.9" stroke-linecap="butt"/>
<line x1="926.9" y1="357.0" x2="926.9" y2="365.0" stroke="#999" stroke-width="0.9" stroke-linecap="butt"/>
<line x1="932.2" y1="357.0" x2="932.2" y2="365.0" stroke="#999" stroke-width="0.9" stroke-linecap="butt"/>
<line x1="934.8" y1="357.0" x2="934.8" y2="361.6" stroke="#999" stroke-width="0.9" stroke-linecap="butt"/>
<line x1="937.5" y1="357.0" x2="937.5" y2="361.6" stroke="#999" stroke-width="0.9" stroke-linecap="butt"/>
<line x1="940.1" y1="357.0" x2="940.1" y2="361.6" stroke="#444" stroke-width="0.9" stroke-linecap="butt"/>
<line x1="942.8" y1="357.0" x2="942.8" y2="361.6" stroke="#444" stroke-width="0.9" stroke-linecap="butt"/>
<line x1="945.5" y1="357.0" x2="945.5" y2="361.6" stroke="#444" stroke-width="0.9" stroke-linecap="butt"/>
<line x1="948.1" y1="357.0" x2="948.1" y2="361.6" stroke="#444" stroke-width="0.9" stroke-linecap="butt"/>
<line x1="950.8" y1="357.0" x2="950.8" y2="361.6" stroke="#444" stroke-width="0.9" stroke-linecap="butt"/>
<line x1="953.4" y1="357.0" x2="953.4" y2="361.6" stroke="#444" stroke-width="0.9" stroke-linecap="butt"/>
<line x1="901.8" y1="357.0" x2="901.8" y2="365.0" stroke="#aaa" stroke-width="1.0" stroke-linecap="butt"/>
<line x1="929.5" y1="357.0" x2="929.5" y2="365.5" stroke="#111" stroke-width="1.3" stroke-linecap="butt"/>
<text x="842.3" y="384.6" style="font-family:'Liberation Sans',sans-serif;font-size:12.5px;font-weight:normal" fill="#333" text-anchor="middle" textLength="34.5" lengthAdjust="spacingAndGlyphs" >-4,882</text>
<text x="893.3" y="379.6" style="font-family:'Liberation Sans',sans-serif;font-size:12.5px;font-weight:normal" fill="#555" text-anchor="end" >-</text>
<text x="901.8" y="379.6" style="font-family:'Liberation Sans',sans-serif;font-size:12.5px;font-weight:normal" fill="#333" text-anchor="middle" textLength="12.2" lengthAdjust="spacingAndGlyphs" >10</text>
<text x="908.1" y="372.6" style="font-family:'Liberation Sans',sans-serif;font-size:10px;font-weight:normal" fill="#333" text-anchor="start" >3</text>
<text x="929.5" y="379.6" style="font-family:'Liberation Sans',sans-serif;font-size:12.5px;font-weight:normal" fill="#333" text-anchor="middle" >0</text>
<text x="953.9" y="379.6" style="font-family:'Liberation Sans',sans-serif;font-size:12.5px;font-weight:normal" fill="#333" text-anchor="middle" textLength="12.2" lengthAdjust="spacingAndGlyphs" >10</text>
<text x="960.2" y="372.6" style="font-family:'Liberation Sans',sans-serif;font-size:10px;font-weight:normal" fill="#333" text-anchor="start" >3</text>
<text x="1041.8" y="379.6" style="font-family:'Liberation Sans',sans-serif;font-size:12.5px;font-weight:normal" fill="#333" text-anchor="middle" textLength="12.2" lengthAdjust="spacingAndGlyphs" >10</text>
<text x="1048.1" y="372.6" style="font-family:'Liberation Sans',sans-serif;font-size:10px;font-weight:normal" fill="#333" text-anchor="start" >4</text>
<text x="1113.7" y="379.6" style="font-family:'Liberation Sans',sans-serif;font-size:12.5px;font-weight:normal" fill="#333" text-anchor="middle" textLength="12.2" lengthAdjust="spacingAndGlyphs" >10</text>
<text x="1120.0" y="372.6" style="font-family:'Liberation Sans',sans-serif;font-size:10px;font-weight:normal" fill="#333" text-anchor="start" >5</text>
<text x="830.8" y="366.8" style="font-family:'Liberation Sans',sans-serif;font-size:9.5px;font-weight:bold" fill="#5a5aff" text-anchor="start" textLength="8.9" lengthAdjust="spacingAndGlyphs" >M</text>
<text x="863.2" y="106.2" style="font-family:'Liberation Sans',sans-serif;font-size:34.3px;font-weight:bold" fill="#000" text-anchor="start" textLength="24.5" lengthAdjust="spacingAndGlyphs" >C</text>
<line x1="135.5" y1="414.8" x2="437.2" y2="414.8" stroke="#1a1a1a" stroke-width="1.8" stroke-linecap="butt"/>
<line x1="437.2" y1="414.8" x2="437.2" y2="704.7" stroke="#a0a0a0" stroke-width="1.6" stroke-linecap="butt"/>
<line x1="135.5" y1="704.7" x2="437.2" y2="704.7" stroke="#9a9a9a" stroke-width="1.5" stroke-linecap="butt"/>
<line x1="135.5" y1="413.8" x2="135.5" y2="710.7" stroke="#8a8a8a" stroke-width="1.4" stroke-linecap="butt"/>
<line x1="128.0" y1="704.7" x2="135.5" y2="704.7" stroke="#333" stroke-width="1.1" stroke-linecap="butt"/>
<line x1="131.7" y1="695.0" x2="135.5" y2="695.0" stroke="#333" stroke-width="1.1" stroke-linecap="butt"/>
<line x1="131.7" y1="685.4" x2="135.5" y2="685.4" stroke="#333" stroke-width="1.1" stroke-linecap="butt"/>
<line x1="131.7" y1="675.7" x2="135.5" y2="675.7" stroke="#333" stroke-width="1.1" stroke-linecap="butt"/>
<line x1="131.7" y1="666.0" x2="135.5" y2="666.0" stroke="#333" stroke-width="1.1" stroke-linecap="butt"/>
<line x1="128.0" y1="656.4" x2="135.5" y2="656.4" stroke="#333" stroke-width="1.1" stroke-linecap="butt"/>
<line x1="131.7" y1="646.7" x2="135.5" y2="646.7" stroke="#333" stroke-width="1.1" stroke-linecap="butt"/>
<line x1="131.7" y1="637.1" x2="135.5" y2="637.1" stroke="#333" stroke-width="1.1" stroke-linecap="butt"/>
<line x1="131.7" y1="627.4" x2="135.5" y2="627.4" stroke="#333" stroke-width="1.1" stroke-linecap="butt"/>
<line x1="131.7" y1="617.7" x2="135.5" y2="617.7" stroke="#333" stroke-width="1.1" stroke-linecap="butt"/>
<line x1="128.0" y1="608.1" x2="135.5" y2="608.1" stroke="#333" stroke-width="1.1" stroke-linecap="butt"/>
<line x1="131.7" y1="598.4" x2="135.5" y2="598.4" stroke="#333" stroke-width="1.1" stroke-linecap="butt"/>
<line x1="131.7" y1="588.7" x2="135.5" y2="588.7" stroke="#333" stroke-width="1.1" stroke-linecap="butt"/>
<line x1="131.7" y1="579.1" x2="135.5" y2="579.1" stroke="#333" stroke-width="1.1" stroke-linecap="butt"/>
<line x1="131.7" y1="569.4" x2="135.5" y2="569.4" stroke="#333" stroke-width="1.1" stroke-linecap="butt"/>
<line x1="128.0" y1="559.8" x2="135.5" y2="559.8" stroke="#333" stroke-width="1.1" stroke-linecap="butt"/>
<line x1="131.7" y1="550.1" x2="135.5" y2="550.1" stroke="#333" stroke-width="1.1" stroke-linecap="butt"/>
<line x1="131.7" y1="540.4" x2="135.5" y2="540.4" stroke="#333" stroke-width="1.1" stroke-linecap="butt"/>
<line x1="131.7" y1="530.8" x2="135.5" y2="530.8" stroke="#333" stroke-width="1.1" stroke-linecap="butt"/>
<line x1="131.7" y1="521.1" x2="135.5" y2="521.1" stroke="#333" stroke-width="1.1" stroke-linecap="butt"/>
<line x1="128.0" y1="511.4" x2="135.5" y2="511.4" stroke="#333" stroke-width="1.1" stroke-linecap="butt"/>
<line x1="131.7" y1="501.8" x2="135.5" y2="501.8" stroke="#333" stroke-width="1.1" stroke-linecap="butt"/>
<line x1="131.7" y1="492.1" x2="135.5" y2="492.1" stroke="#333" stroke-width="1.1" stroke-linecap="butt"/>
<line x1="131.7" y1="482.4" x2="135.5" y2="482.4" stroke="#333" stroke-width="1.1" stroke-linecap="butt"/>
<line x1="131.7" y1="472.8" x2="135.5" y2="472.8" stroke="#333" stroke-width="1.1" stroke-linecap="butt"/>
<line x1="128.0" y1="463.1" x2="135.5" y2="463.1" stroke="#333" stroke-width="1.1" stroke-linecap="butt"/>
<line x1="131.7" y1="453.5" x2="135.5" y2="453.5" stroke="#333" stroke-width="1.1" stroke-linecap="butt"/>
<line x1="131.7" y1="443.8" x2="135.5" y2="443.8" stroke="#333" stroke-width="1.1" stroke-linecap="butt"/>
<line x1="131.7" y1="434.1" x2="135.5" y2="434.1" stroke="#333" stroke-width="1.1" stroke-linecap="butt"/>
<line x1="131.7" y1="424.5" x2="135.5" y2="424.5" stroke="#333" stroke-width="1.1" stroke-linecap="butt"/>
<line x1="128.0" y1="414.8" x2="135.5" y2="414.8" stroke="#333" stroke-width="1.1" stroke-linecap="butt"/>
<text transform="translate(126.5,704.7) rotate(-90)" style="font-family:'Liberation Sans',sans-serif;font-size:10.5px;font-weight:normal" fill="#333" text-anchor="middle">0</text>
<text transform="translate(126.5,656.4) rotate(-90)" style="font-family:'Liberation Sans',sans-serif;font-size:10.5px;font-weight:normal" fill="#333" text-anchor="middle">1</text>
<text transform="translate(126.5,608.1) rotate(-90)" style="font-family:'Liberation Sans',sans-serif;font-size:10.5px;font-weight:normal" fill="#333" text-anchor="middle">2</text>
<text transform="translate(126.5,559.8) rotate(-90)" style="font-family:'Liberation Sans',sans-serif;font-size:10.5px;font-weight:normal" fill="#333" text-anchor="middle">3</text>
<text transform="translate(126.5,511.4) rotate(-90)" style="font-family:'Liberation Sans',sans-serif;font-size:10.5px;font-weight:normal" fill="#333" text-anchor="middle">4</text>
<text transform="translate(126.5,463.1) rotate(-90)" style="font-family:'Liberation Sans',sans-serif;font-size:10.5px;font-weight:normal" fill="#333" text-anchor="middle">5</text>
<text transform="translate(126.5,414.8) rotate(-90)" style="font-family:'Liberation Sans',sans-serif;font-size:10.5px;font-weight:normal" fill="#333" text-anchor="middle">6</text>
<text transform="translate(104.7,462.3) rotate(-90)" style="font-family:'Liberation Sans',sans-serif;font-size:12px;font-weight:normal" fill="#333" text-anchor="start" textLength="47.5" lengthAdjust="spacingAndGlyphs">(x 1,000)</text>
<line x1="143.6" y1="704.7" x2="143.6" y2="709.7" stroke="#222" stroke-width="1.1" stroke-linecap="butt"/>
<line x1="154.8" y1="704.7" x2="154.8" y2="709.7" stroke="#222" stroke-width="1.1" stroke-linecap="butt"/>
<line x1="170.7" y1="704.7" x2="170.7" y2="709.7" stroke="#222" stroke-width="1.1" stroke-linecap="butt"/>
<line x1="270.5" y1="704.7" x2="270.5" y2="709.7" stroke="#222" stroke-width="1.1" stroke-linecap="butt"/>
<line x1="287.1" y1="704.7" x2="287.1" y2="709.7" stroke="#222" stroke-width="1.1" stroke-linecap="butt"/>
<line x1="299.4" y1="704.7" x2="299.4" y2="709.7" stroke="#222" stroke-width="1.1" stroke-linecap="butt"/>
<line x1="308.5" y1="704.7" x2="308.5" y2="709.7" stroke="#222" stroke-width="1.1" stroke-linecap="butt"/>
<line x1="316.2" y1="704.7" x2="316.2" y2="709.7" stroke="#222" stroke-width="1.1" stroke-linecap="butt"/>
<line x1="322.5" y1="704.7" x2="322.5" y2="709.7" stroke="#222" stroke-width="1.1" stroke-linecap="butt"/>
<line x1="327.5" y1="704.7" x2="327.5" y2="709.7" stroke="#222" stroke-width="1.1" stroke-linecap="butt"/>
<line x1="331.0" y1="704.7" x2="331.0" y2="709.7" stroke="#222" stroke-width="1.1" stroke-linecap="butt"/>
<line x1="358.3" y1="704.7" x2="358.3" y2="709.7" stroke="#222" stroke-width="1.1" stroke-linecap="butt"/>
<line x1="371.7" y1="704.7" x2="371.7" y2="709.7" stroke="#222" stroke-width="1.1" stroke-linecap="butt"/>
<line x1="380.7" y1="704.7" x2="380.7" y2="709.7" stroke="#222" stroke-width="1.1" stroke-linecap="butt"/>
<line x1="387.8" y1="704.7" x2="387.8" y2="709.7" stroke="#222" stroke-width="1.1" stroke-linecap="butt"/>
<line x1="393.4" y1="704.7" x2="393.4" y2="709.7" stroke="#222" stroke-width="1.1" stroke-linecap="butt"/>
<line x1="398.4" y1="704.7" x2="398.4" y2="709.7" stroke="#222" stroke-width="1.1" stroke-linecap="butt"/>
<line x1="401.9" y1="704.7" x2="401.9" y2="709.7" stroke="#222" stroke-width="1.1" stroke-linecap="butt"/>
<line x1="404.6" y1="704.7" x2="404.6" y2="709.7" stroke="#222" stroke-width="1.1" stroke-linecap="butt"/>
<line x1="429.2" y1="704.7" x2="429.2" y2="709.7" stroke="#222" stroke-width="1.1" stroke-linecap="butt"/>
<line x1="248.1" y1="704.7" x2="248.1" y2="713.2" stroke="#222" stroke-width="1.2" stroke-linecap="butt"/>
<line x1="335.1" y1="704.7" x2="335.1" y2="713.2" stroke="#222" stroke-width="1.2" stroke-linecap="butt"/>
<line x1="407.4" y1="704.7" x2="407.4" y2="713.2" stroke="#222" stroke-width="1.2" stroke-linecap="butt"/>
<line x1="197.9" y1="704.7" x2="197.9" y2="709.3" stroke="#b0b0b0" stroke-width="0.9" stroke-linecap="butt"/>
<line x1="200.5" y1="704.7" x2="200.5" y2="709.3" stroke="#b0b0b0" stroke-width="0.9" stroke-linecap="butt"/>
<line x1="203.2" y1="704.7" x2="203.2" y2="709.3" stroke="#b0b0b0" stroke-width="0.9" stroke-linecap="butt"/>
<line x1="205.8" y1="704.7" x2="205.8" y2="709.3" stroke="#b0b0b0" stroke-width="0.9" stroke-linecap="butt"/>
<line x1="208.5" y1="704.7" x2="208.5" y2="709.3" stroke="#b0b0b0" stroke-width="0.9" stroke-linecap="butt"/>
<line x1="211.1" y1="704.7" x2="211.1" y2="709.3" stroke="#b0b0b0" stroke-width="0.9" stroke-linecap="butt"/>
<line x1="213.8" y1="704.7" x2="213.8" y2="709.3" stroke="#b0b0b0" stroke-width="0.9" stroke-linecap="butt"/>
<line x1="216.4" y1="704.7" x2="216.4" y2="709.3" stroke="#b0b0b0" stroke-width="0.9" stroke-linecap="butt"/>
<line x1="219.1" y1="704.7" x2="219.1" y2="712.7" stroke="#999" stroke-width="0.9" stroke-linecap="butt"/>
<line x1="224.4" y1="704.7" x2="224.4" y2="712.7" stroke="#999" stroke-width="0.9" stroke-linecap="butt"/>
<line x1="227.0" y1="704.7" x2="227.0" y2="709.3" stroke="#999" stroke-width="0.9" stroke-linecap="butt"/>
<line x1="229.7" y1="704.7" x2="229.7" y2="709.3" stroke="#999" stroke-width="0.9" stroke-linecap="butt"/>
<line x1="232.3" y1="704.7" x2="232.3" y2="709.3" stroke="#444" stroke-width="0.9" stroke-linecap="butt"/>
<line x1="235.0" y1="704.7" x2="235.0" y2="709.3" stroke="#444" stroke-width="0.9" stroke-linecap="butt"/>
<line x1="237.6" y1="704.7" x2="237.6" y2="709.3" stroke="#444" stroke-width="0.9" stroke-linecap="butt"/>
<line x1="240.3" y1="704.7" x2="240.3" y2="709.3" stroke="#444" stroke-width="0.9" stroke-linecap="butt"/>
<line x1="242.9" y1="704.7" x2="242.9" y2="709.3" stroke="#444" stroke-width="0.9" stroke-linecap="butt"/>
<line x1="245.6" y1="704.7" x2="245.6" y2="709.3" stroke="#444" stroke-width="0.9" stroke-linecap="butt"/>
<line x1="194.1" y1="704.7" x2="194.1" y2="712.7" stroke="#aaa" stroke-width="1.0" stroke-linecap="butt"/>
<line x1="221.7" y1="704.7" x2="221.7" y2="713.2" stroke="#111" stroke-width="1.3" stroke-linecap="butt"/>
<text x="134.8" y="732.3" style="font-family:'Liberation Sans',sans-serif;font-size:12.5px;font-weight:normal" fill="#333" text-anchor="middle" textLength="34.5" lengthAdjust="spacingAndGlyphs" >-4,882</text>
<text x="185.6" y="727.3" style="font-family:'Liberation Sans',sans-serif;font-size:12.5px;font-weight:normal" fill="#555" text-anchor="end" >-</text>
<text x="194.1" y="727.3" style="font-family:'Liberation Sans',sans-serif;font-size:12.5px;font-weight:normal" fill="#333" text-anchor="middle" textLength="12.2" lengthAdjust="spacingAndGlyphs" >10</text>
<text x="200.4" y="720.3" style="font-family:'Liberation Sans',sans-serif;font-size:10px;font-weight:normal" fill="#333" text-anchor="start" >3</text>
<text x="221.7" y="727.3" style="font-family:'Liberation Sans',sans-serif;font-size:12.5px;font-weight:normal" fill="#333" text-anchor="middle" >0</text>
<text x="246.0" y="727.3" style="font-family:'Liberation Sans',sans-serif;font-size:12.5px;font-weight:normal" fill="#333" text-anchor="middle" textLength="12.2" lengthAdjust="spacingAndGlyphs" >10</text>
<text x="252.3" y="720.3" style="font-family:'Liberation Sans',sans-serif;font-size:10px;font-weight:normal" fill="#333" text-anchor="start" >3</text>
<text x="333.6" y="727.3" style="font-family:'Liberation Sans',sans-serif;font-size:12.5px;font-weight:normal" fill="#333" text-anchor="middle" textLength="12.2" lengthAdjust="spacingAndGlyphs" >10</text>
<text x="339.9" y="720.3" style="font-family:'Liberation Sans',sans-serif;font-size:10px;font-weight:normal" fill="#333" text-anchor="start" >4</text>
<text x="405.3" y="727.3" style="font-family:'Liberation Sans',sans-serif;font-size:12.5px;font-weight:normal" fill="#333" text-anchor="middle" textLength="12.2" lengthAdjust="spacingAndGlyphs" >10</text>
<text x="411.6" y="720.3" style="font-family:'Liberation Sans',sans-serif;font-size:10px;font-weight:normal" fill="#333" text-anchor="start" >5</text>
<text x="123.3" y="714.5" style="font-family:'Liberation Sans',sans-serif;font-size:9.5px;font-weight:bold" fill="#5a5aff" text-anchor="start" textLength="8.9" lengthAdjust="spacingAndGlyphs" >M</text>
<text x="149.4" y="457.0" style="font-family:'Liberation Sans',sans-serif;font-size:34.3px;font-weight:bold" fill="#000" text-anchor="start" textLength="27.0" lengthAdjust="spacingAndGlyphs" >D</text>
<line x1="490.8" y1="416.1" x2="794.4" y2="416.1" stroke="#1a1a1a" stroke-width="1.8" stroke-linecap="butt"/>
<line x1="794.4" y1="416.1" x2="794.4" y2="707.4" stroke="#a0a0a0" stroke-width="1.6" stroke-linecap="butt"/>
<line x1="490.8" y1="707.4" x2="794.4" y2="707.4" stroke="#9a9a9a" stroke-width="1.5" stroke-linecap="butt"/>
<line x1="490.8" y1="415.1" x2="490.8" y2="713.4" stroke="#8a8a8a" stroke-width="1.4" stroke-linecap="butt"/>
<line x1="483.3" y1="707.4" x2="490.8" y2="707.4" stroke="#333" stroke-width="1.1" stroke-linecap="butt"/>
<line x1="487.0" y1="697.7" x2="490.8" y2="697.7" stroke="#333" stroke-width="1.1" stroke-linecap="butt"/>
<line x1="487.0" y1="688.0" x2="490.8" y2="688.0" stroke="#333" stroke-width="1.1" stroke-linecap="butt"/>
<line x1="487.0" y1="678.3" x2="490.8" y2="678.3" stroke="#333" stroke-width="1.1" stroke-linecap="butt"/>
<line x1="487.0" y1="668.6" x2="490.8" y2="668.6" stroke="#333" stroke-width="1.1" stroke-linecap="butt"/>
<line x1="483.3" y1="658.9" x2="490.8" y2="658.9" stroke="#333" stroke-width="1.1" stroke-linecap="butt"/>
<line x1="487.0" y1="649.1" x2="490.8" y2="649.1" stroke="#333" stroke-width="1.1" stroke-linecap="butt"/>
<line x1="487.0" y1="639.4" x2="490.8" y2="639.4" stroke="#333" stroke-width="1.1" stroke-linecap="butt"/>
<line x1="487.0" y1="629.7" x2="490.8" y2="629.7" stroke="#333" stroke-width="1.1" stroke-linecap="butt"/>
<line x1="487.0" y1="620.0" x2="490.8" y2="620.0" stroke="#333" stroke-width="1.1" stroke-linecap="butt"/>
<line x1="483.3" y1="610.3" x2="490.8" y2="610.3" stroke="#333" stroke-width="1.1" stroke-linecap="butt"/>
<line x1="487.0" y1="600.6" x2="490.8" y2="600.6" stroke="#333" stroke-width="1.1" stroke-linecap="butt"/>
<line x1="487.0" y1="590.9" x2="490.8" y2="590.9" stroke="#333" stroke-width="1.1" stroke-linecap="butt"/>
<line x1="487.0" y1="581.2" x2="490.8" y2="581.2" stroke="#333" stroke-width="1.1" stroke-linecap="butt"/>
<line x1="487.0" y1="571.5" x2="490.8" y2="571.5" stroke="#333" stroke-width="1.1" stroke-linecap="butt"/>
<line x1="483.3" y1="561.8" x2="490.8" y2="561.8" stroke="#333" stroke-width="1.1" stroke-linecap="butt"/>
<line x1="487.0" y1="552.0" x2="490.8" y2="552.0" stroke="#333" stroke-width="1.1" stroke-linecap="butt"/>
<line x1="487.0" y1="542.3" x2="490.8" y2="542.3" stroke="#333" stroke-width="1.1" stroke-linecap="butt"/>
<line x1="487.0" y1="532.6" x2="490.8" y2="532.6" stroke="#333" stroke-width="1.1" stroke-linecap="butt"/>
<line x1="487.0" y1="522.9" x2="490.8" y2="522.9" stroke="#333" stroke-width="1.1" stroke-linecap="butt"/>
<line x1="483.3" y1="513.2" x2="490.8" y2="513.2" stroke="#333" stroke-width="1.1" stroke-linecap="butt"/>
<line x1="487.0" y1="503.5" x2="490.8" y2="503.5" stroke="#333" stroke-width="1.1" stroke-linecap="butt"/>
<line x1="487.0" y1="493.8" x2="490.8" y2="493.8" stroke="#333" stroke-width="1.1" stroke-linecap="butt"/>
<line x1="487.0" y1="484.1" x2="490.8" y2="484.1" stroke="#333" stroke-width="1.1" stroke-linecap="butt"/>
<line x1="487.0" y1="474.4" x2="490.8" y2="474.4" stroke="#333" stroke-width="1.1" stroke-linecap="butt"/>
<line x1="483.3" y1="464.7" x2="490.8" y2="464.7" stroke="#333" stroke-width="1.1" stroke-linecap="butt"/>
<line x1="487.0" y1="454.9" x2="490.8" y2="454.9" stroke="#333" stroke-width="1.1" stroke-linecap="butt"/>
<line x1="487.0" y1="445.2" x2="490.8" y2="445.2" stroke="#333" stroke-width="1.1" stroke-linecap="butt"/>
<line x1="487.0" y1="435.5" x2="490.8" y2="435.5" stroke="#333" stroke-width="1.1" stroke-linecap="butt"/>
<line x1="487.0" y1="425.8" x2="490.8" y2="425.8" stroke="#333" stroke-width="1.1" stroke-linecap="butt"/>
<line x1="483.3" y1="416.1" x2="490.8" y2="416.1" stroke="#333" stroke-width="1.1" stroke-linecap="butt"/>
<text transform="translate(481.8,707.4) rotate(-90)" style="font-family:'Liberation Sans',sans-serif;font-size:10.5px;font-weight:normal" fill="#333" text-anchor="middle">0</text>
<text transform="translate(481.8,658.9) rotate(-90)" style="font-family:'Liberation Sans',sans-serif;font-size:10.5px;font-weight:normal" fill="#333" text-anchor="middle">1</text>
<text transform="translate(481.8,610.3) rotate(-90)" style="font-family:'Liberation Sans',sans-serif;font-size:10.5px;font-weight:normal" fill="#333" text-anchor="middle">2</text>
<text transform="translate(481.8,561.8) rotate(-90)" style="font-family:'Liberation Sans',sans-serif;font-size:10.5px;font-weight:normal" fill="#333" text-anchor="middle">3</text>
<text transform="translate(481.8,513.2) rotate(-90)" style="font-family:'Liberation Sans',sans-serif;font-size:10.5px;font-weight:normal" fill="#333" text-anchor="middle">4</text>
<text transform="translate(481.8,464.7) rotate(-90)" style="font-family:'Liberation Sans',sans-serif;font-size:10.5px;font-weight:normal" fill="#333" text-anchor="middle">5</text>
<text transform="translate(481.8,416.1) rotate(-90)" style="font-family:'Liberation Sans',sans-serif;font-size:10.5px;font-weight:normal" fill="#333" text-anchor="middle">6</text>
<text transform="translate(460.0,463.6) rotate(-90)" style="font-family:'Liberation Sans',sans-serif;font-size:12px;font-weight:normal" fill="#333" text-anchor="start" textLength="47.5" lengthAdjust="spacingAndGlyphs">(x 1,000)</text>
<line x1="498.9" y1="707.4" x2="498.9" y2="712.4" stroke="#222" stroke-width="1.1" stroke-linecap="butt"/>
<line x1="510.2" y1="707.4" x2="510.2" y2="712.4" stroke="#222" stroke-width="1.1" stroke-linecap="butt"/>
<line x1="526.3" y1="707.4" x2="526.3" y2="712.4" stroke="#222" stroke-width="1.1" stroke-linecap="butt"/>
<line x1="626.7" y1="707.4" x2="626.7" y2="712.4" stroke="#222" stroke-width="1.1" stroke-linecap="butt"/>
<line x1="643.4" y1="707.4" x2="643.4" y2="712.4" stroke="#222" stroke-width="1.1" stroke-linecap="butt"/>
<line x1="655.7" y1="707.4" x2="655.7" y2="712.4" stroke="#222" stroke-width="1.1" stroke-linecap="butt"/>
<line x1="664.8" y1="707.4" x2="664.8" y2="712.4" stroke="#222" stroke-width="1.1" stroke-linecap="butt"/>
<line x1="672.7" y1="707.4" x2="672.7" y2="712.4" stroke="#222" stroke-width="1.1" stroke-linecap="butt"/>
<line x1="679.0" y1="707.4" x2="679.0" y2="712.4" stroke="#222" stroke-width="1.1" stroke-linecap="butt"/>
<line x1="684.0" y1="707.4" x2="684.0" y2="712.4" stroke="#222" stroke-width="1.1" stroke-linecap="butt"/>
<line x1="687.5" y1="707.4" x2="687.5" y2="712.4" stroke="#222" stroke-width="1.1" stroke-linecap="butt"/>
<line x1="715.0" y1="707.4" x2="715.0" y2="712.4" stroke="#222" stroke-width="1.1" stroke-linecap="butt"/>
<line x1="728.5" y1="707.4" x2="728.5" y2="712.4" stroke="#222" stroke-width="1.1" stroke-linecap="butt"/>
<line x1="737.6" y1="707.4" x2="737.6" y2="712.4" stroke="#222" stroke-width="1.1" stroke-linecap="butt"/>
<line x1="744.7" y1="707.4" x2="744.7" y2="712.4" stroke="#222" stroke-width="1.1" stroke-linecap="butt"/>
<line x1="750.3" y1="707.4" x2="750.3" y2="712.4" stroke="#222" stroke-width="1.1" stroke-linecap="butt"/>
<line x1="755.3" y1="707.4" x2="755.3" y2="712.4" stroke="#222" stroke-width="1.1" stroke-linecap="butt"/>
<line x1="758.8" y1="707.4" x2="758.8" y2="712.4" stroke="#222" stroke-width="1.1" stroke-linecap="butt"/>
<line x1="761.6" y1="707.4" x2="761.6" y2="712.4" stroke="#222" stroke-width="1.1" stroke-linecap="butt"/>
<line x1="786.4" y1="707.4" x2="786.4" y2="712.4" stroke="#222" stroke-width="1.1" stroke-linecap="butt"/>
<line x1="604.1" y1="707.4" x2="604.1" y2="715.9" stroke="#222" stroke-width="1.2" stroke-linecap="butt"/>
<line x1="691.7" y1="707.4" x2="691.7" y2="715.9" stroke="#222" stroke-width="1.2" stroke-linecap="butt"/>
<line x1="764.4" y1="707.4" x2="764.4" y2="715.9" stroke="#222" stroke-width="1.2" stroke-linecap="butt"/>
<line x1="553.6" y1="707.4" x2="553.6" y2="712.0" stroke="#b0b0b0" stroke-width="0.9" stroke-linecap="butt"/>
<line x1="556.2" y1="707.4" x2="556.2" y2="712.0" stroke="#b0b0b0" stroke-width="0.9" stroke-linecap="butt"/>
<line x1="558.9" y1="707.4" x2="558.9" y2="712.0" stroke="#b0b0b0" stroke-width="0.9" stroke-linecap="butt"/>
<line x1="561.6" y1="707.4" x2="561.6" y2="712.0" stroke="#b0b0b0" stroke-width="0.9" stroke-linecap="butt"/>
<line x1="564.2" y1="707.4" x2="564.2" y2="712.0" stroke="#b0b0b0" stroke-width="0.9" stroke-linecap="butt"/>
<line x1="566.9" y1="707.4" x2="566.9" y2="712.0" stroke="#b0b0b0" stroke-width="0.9" stroke-linecap="butt"/>
<line x1="569.6" y1="707.4" x2="569.6" y2="712.0" stroke="#b0b0b0" stroke-width="0.9" stroke-linecap="butt"/>
<line x1="572.2" y1="707.4" x2="572.2" y2="712.0" stroke="#b0b0b0" stroke-width="0.9" stroke-linecap="butt"/>
<line x1="574.9" y1="707.4" x2="574.9" y2="715.4" stroke="#999" stroke-width="0.9" stroke-linecap="butt"/>
<line x1="580.2" y1="707.4" x2="580.2" y2="715.4" stroke="#999" stroke-width="0.9" stroke-linecap="butt"/>
<line x1="582.9" y1="707.4" x2="582.9" y2="712.0" stroke="#999" stroke-width="0.9" stroke-linecap="butt"/>
<line x1="585.6" y1="707.4" x2="585.6" y2="712.0" stroke="#999" stroke-width="0.9" stroke-linecap="butt"/>
<line x1="588.2" y1="707.4" x2="588.2" y2="712.0" stroke="#444" stroke-width="0.9" stroke-linecap="butt"/>
<line x1="590.9" y1="707.4" x2="590.9" y2="712.0" stroke="#444" stroke-width="0.9" stroke-linecap="butt"/>
<line x1="593.6" y1="707.4" x2="593.6" y2="712.0" stroke="#444" stroke-width="0.9" stroke-linecap="butt"/>
<line x1="596.2" y1="707.4" x2="596.2" y2="712.0" stroke="#444" stroke-width="0.9" stroke-linecap="butt"/>
<line x1="598.9" y1="707.4" x2="598.9" y2="712.0" stroke="#444" stroke-width="0.9" stroke-linecap="butt"/>
<line x1="601.6" y1="707.4" x2="601.6" y2="712.0" stroke="#444" stroke-width="0.9" stroke-linecap="butt"/>
<line x1="549.8" y1="707.4" x2="549.8" y2="715.4" stroke="#aaa" stroke-width="1.0" stroke-linecap="butt"/>
<line x1="577.6" y1="707.4" x2="577.6" y2="715.9" stroke="#111" stroke-width="1.3" stroke-linecap="butt"/>
<text x="490.1" y="735.0" style="font-family:'Liberation Sans',sans-serif;font-size:12.5px;font-weight:normal" fill="#333" text-anchor="middle" textLength="34.5" lengthAdjust="spacingAndGlyphs" >-4,882</text>
<text x="541.3" y="730.0" style="font-family:'Liberation Sans',sans-serif;font-size:12.5px;font-weight:normal" fill="#555" text-anchor="end" >-</text>
<text x="549.8" y="730.0" style="font-family:'Liberation Sans',sans-serif;font-size:12.5px;font-weight:normal" fill="#333" text-anchor="middle" textLength="12.2" lengthAdjust="spacingAndGlyphs" >10</text>
<text x="556.1" y="723.0" style="font-family:'Liberation Sans',sans-serif;font-size:10px;font-weight:normal" fill="#333" text-anchor="start" >3</text>
<text x="577.6" y="730.0" style="font-family:'Liberation Sans',sans-serif;font-size:12.5px;font-weight:normal" fill="#333" text-anchor="middle" >0</text>
<text x="602.0" y="730.0" style="font-family:'Liberation Sans',sans-serif;font-size:12.5px;font-weight:normal" fill="#333" text-anchor="middle" textLength="12.2" lengthAdjust="spacingAndGlyphs" >10</text>
<text x="608.3" y="723.0" style="font-family:'Liberation Sans',sans-serif;font-size:10px;font-weight:normal" fill="#333" text-anchor="start" >3</text>
<text x="690.2" y="730.0" style="font-family:'Liberation Sans',sans-serif;font-size:12.5px;font-weight:normal" fill="#333" text-anchor="middle" textLength="12.2" lengthAdjust="spacingAndGlyphs" >10</text>
<text x="696.5" y="723.0" style="font-family:'Liberation Sans',sans-serif;font-size:10px;font-weight:normal" fill="#333" text-anchor="start" >4</text>
<text x="762.3" y="730.0" style="font-family:'Liberation Sans',sans-serif;font-size:12.5px;font-weight:normal" fill="#333" text-anchor="middle" textLength="12.2" lengthAdjust="spacingAndGlyphs" >10</text>
<text x="768.6" y="723.0" style="font-family:'Liberation Sans',sans-serif;font-size:10px;font-weight:normal" fill="#333" text-anchor="start" >5</text>
<text x="478.6" y="717.2" style="font-family:'Liberation Sans',sans-serif;font-size:9.5px;font-weight:bold" fill="#5a5aff" text-anchor="start" textLength="8.9" lengthAdjust="spacingAndGlyphs" >M</text>
<text x="511.1" y="457.3" style="font-family:'Liberation Sans',sans-serif;font-size:34.3px;font-weight:bold" fill="#000" text-anchor="start" textLength="22.6" lengthAdjust="spacingAndGlyphs" >E</text>
<line x1="842.2" y1="420.0" x2="1144.8" y2="420.0" stroke="#1a1a1a" stroke-width="1.8" stroke-linecap="butt"/>
<line x1="1144.8" y1="420.0" x2="1144.8" y2="705.6" stroke="#a0a0a0" stroke-width="1.6" stroke-linecap="butt"/>
<line x1="842.2" y1="705.6" x2="1144.8" y2="705.6" stroke="#9a9a9a" stroke-width="1.5" stroke-linecap="butt"/>
<line x1="842.2" y1="419.0" x2="842.2" y2="711.6" stroke="#8a8a8a" stroke-width="1.4" stroke-linecap="butt"/>
<line x1="834.7" y1="705.6" x2="842.2" y2="705.6" stroke="#333" stroke-width="1.1" stroke-linecap="butt"/>
<line x1="838.4" y1="696.1" x2="842.2" y2="696.1" stroke="#333" stroke-width="1.1" stroke-linecap="butt"/>
<line x1="838.4" y1="686.6" x2="842.2" y2="686.6" stroke="#333" stroke-width="1.1" stroke-linecap="butt"/>
<line x1="838.4" y1="677.0" x2="842.2" y2="677.0" stroke="#333" stroke-width="1.1" stroke-linecap="butt"/>
<line x1="838.4" y1="667.5" x2="842.2" y2="667.5" stroke="#333" stroke-width="1.1" stroke-linecap="butt"/>
<line x1="834.7" y1="658.0" x2="842.2" y2="658.0" stroke="#333" stroke-width="1.1" stroke-linecap="butt"/>
<line x1="838.4" y1="648.5" x2="842.2" y2="648.5" stroke="#333" stroke-width="1.1" stroke-linecap="butt"/>
<line x1="838.4" y1="639.0" x2="842.2" y2="639.0" stroke="#333" stroke-width="1.1" stroke-linecap="butt"/>
<line x1="838.4" y1="629.4" x2="842.2" y2="629.4" stroke="#333" stroke-width="1.1" stroke-linecap="butt"/>
<line x1="838.4" y1="619.9" x2="842.2" y2="619.9" stroke="#333" stroke-width="1.1" stroke-linecap="butt"/>
<line x1="834.7" y1="610.4" x2="842.2" y2="610.4" stroke="#333" stroke-width="1.1" stroke-linecap="butt"/>
<line x1="838.4" y1="600.9" x2="842.2" y2="600.9" stroke="#333" stroke-width="1.1" stroke-linecap="butt"/>
<line x1="838.4" y1="591.4" x2="842.2" y2="591.4" stroke="#333" stroke-width="1.1" stroke-linecap="butt"/>
<line x1="838.4" y1="581.8" x2="842.2" y2="581.8" stroke="#333" stroke-width="1.1" stroke-linecap="butt"/>
<line x1="838.4" y1="572.3" x2="842.2" y2="572.3" stroke="#333" stroke-width="1.1" stroke-linecap="butt"/>
<line x1="834.7" y1="562.8" x2="842.2" y2="562.8" stroke="#333" stroke-width="1.1" stroke-linecap="butt"/>
<line x1="838.4" y1="553.3" x2="842.2" y2="553.3" stroke="#333" stroke-width="1.1" stroke-linecap="butt"/>
<line x1="838.4" y1="543.8" x2="842.2" y2="543.8" stroke="#333" stroke-width="1.1" stroke-linecap="butt"/>
<line x1="838.4" y1="534.2" x2="842.2" y2="534.2" stroke="#333" stroke-width="1.1" stroke-linecap="butt"/>
<line x1="838.4" y1="524.7" x2="842.2" y2="524.7" stroke="#333" stroke-width="1.1" stroke-linecap="butt"/>
<line x1="834.7" y1="515.2" x2="842.2" y2="515.2" stroke="#333" stroke-width="1.1" stroke-linecap="butt"/>
<line x1="838.4" y1="505.7" x2="842.2" y2="505.7" stroke="#333" stroke-width="1.1" stroke-linecap="butt"/>
<line x1="838.4" y1="496.2" x2="842.2" y2="496.2" stroke="#333" stroke-width="1.1" stroke-linecap="butt"/>
<line x1="838.4" y1="486.6" x2="842.2" y2="486.6" stroke="#333" stroke-width="1.1" stroke-linecap="butt"/>
<line x1="838.4" y1="477.1" x2="842.2" y2="477.1" stroke="#333" stroke-width="1.1" stroke-linecap="butt"/>
<line x1="834.7" y1="467.6" x2="842.2" y2="467.6" stroke="#333" stroke-width="1.1" stroke-linecap="butt"/>
<line x1="838.4" y1="458.1" x2="842.2" y2="458.1" stroke="#333" stroke-width="1.1" stroke-linecap="butt"/>
<line x1="838.4" y1="448.6" x2="842.2" y2="448.6" stroke="#333" stroke-width="1.1" stroke-linecap="butt"/>
<line x1="838.4" y1="439.0" x2="842.2" y2="439.0" stroke="#333" stroke-width="1.1" stroke-linecap="butt"/>
<line x1="838.4" y1="429.5" x2="842.2" y2="429.5" stroke="#333" stroke-width="1.1" stroke-linecap="butt"/>
<line x1="834.7" y1="420.0" x2="842.2" y2="420.0" stroke="#333" stroke-width="1.1" stroke-linecap="butt"/>
<text transform="translate(833.2,705.6) rotate(-90)" style="font-family:'Liberation Sans',sans-serif;font-size:10.5px;font-weight:normal" fill="#333" text-anchor="middle">0</text>
<text transform="translate(833.2,658.0) rotate(-90)" style="font-family:'Liberation Sans',sans-serif;font-size:10.5px;font-weight:normal" fill="#333" text-anchor="middle">1</text>
<text transform="translate(833.2,610.4) rotate(-90)" style="font-family:'Liberation Sans',sans-serif;font-size:10.5px;font-weight:normal" fill="#333" text-anchor="middle">2</text>
<text transform="translate(833.2,562.8) rotate(-90)" style="font-family:'Liberation Sans',sans-serif;font-size:10.5px;font-weight:normal" fill="#333" text-anchor="middle">3</text>
<text transform="translate(833.2,515.2) rotate(-90)" style="font-family:'Liberation Sans',sans-serif;font-size:10.5px;font-weight:normal" fill="#333" text-anchor="middle">4</text>
<text transform="translate(833.2,467.6) rotate(-90)" style="font-family:'Liberation Sans',sans-serif;font-size:10.5px;font-weight:normal" fill="#333" text-anchor="middle">5</text>
<text transform="translate(833.2,420.0) rotate(-90)" style="font-family:'Liberation Sans',sans-serif;font-size:10.5px;font-weight:normal" fill="#333" text-anchor="middle">6</text>
<text transform="translate(811.4,467.5) rotate(-90)" style="font-family:'Liberation Sans',sans-serif;font-size:12px;font-weight:normal" fill="#333" text-anchor="start" textLength="47.5" lengthAdjust="spacingAndGlyphs">(x 1,000)</text>
<line x1="850.3" y1="705.6" x2="850.3" y2="710.6" stroke="#222" stroke-width="1.1" stroke-linecap="butt"/>
<line x1="861.6" y1="705.6" x2="861.6" y2="710.6" stroke="#222" stroke-width="1.1" stroke-linecap="butt"/>
<line x1="877.6" y1="705.6" x2="877.6" y2="710.6" stroke="#222" stroke-width="1.1" stroke-linecap="butt"/>
<line x1="977.6" y1="705.6" x2="977.6" y2="710.6" stroke="#222" stroke-width="1.1" stroke-linecap="butt"/>
<line x1="994.3" y1="705.6" x2="994.3" y2="710.6" stroke="#222" stroke-width="1.1" stroke-linecap="butt"/>
<line x1="1006.6" y1="705.6" x2="1006.6" y2="710.6" stroke="#222" stroke-width="1.1" stroke-linecap="butt"/>
<line x1="1015.7" y1="705.6" x2="1015.7" y2="710.6" stroke="#222" stroke-width="1.1" stroke-linecap="butt"/>
<line x1="1023.5" y1="705.6" x2="1023.5" y2="710.6" stroke="#222" stroke-width="1.1" stroke-linecap="butt"/>
<line x1="1029.8" y1="705.6" x2="1029.8" y2="710.6" stroke="#222" stroke-width="1.1" stroke-linecap="butt"/>
<line x1="1034.7" y1="705.6" x2="1034.7" y2="710.6" stroke="#222" stroke-width="1.1" stroke-linecap="butt"/>
<line x1="1038.2" y1="705.6" x2="1038.2" y2="710.6" stroke="#222" stroke-width="1.1" stroke-linecap="butt"/>
<line x1="1065.7" y1="705.6" x2="1065.7" y2="710.6" stroke="#222" stroke-width="1.1" stroke-linecap="butt"/>
<line x1="1079.1" y1="705.6" x2="1079.1" y2="710.6" stroke="#222" stroke-width="1.1" stroke-linecap="butt"/>
<line x1="1088.2" y1="705.6" x2="1088.2" y2="710.6" stroke="#222" stroke-width="1.1" stroke-linecap="butt"/>
<line x1="1095.3" y1="705.6" x2="1095.3" y2="710.6" stroke="#222" stroke-width="1.1" stroke-linecap="butt"/>
<line x1="1100.9" y1="705.6" x2="1100.9" y2="710.6" stroke="#222" stroke-width="1.1" stroke-linecap="butt"/>
<line x1="1105.9" y1="705.6" x2="1105.9" y2="710.6" stroke="#222" stroke-width="1.1" stroke-linecap="butt"/>
<line x1="1109.3" y1="705.6" x2="1109.3" y2="710.6" stroke="#222" stroke-width="1.1" stroke-linecap="butt"/>
<line x1="1112.1" y1="705.6" x2="1112.1" y2="710.6" stroke="#222" stroke-width="1.1" stroke-linecap="butt"/>
<line x1="1136.8" y1="705.6" x2="1136.8" y2="710.6" stroke="#222" stroke-width="1.1" stroke-linecap="butt"/>
<line x1="955.2" y1="705.6" x2="955.2" y2="714.1" stroke="#222" stroke-width="1.2" stroke-linecap="butt"/>
<line x1="1042.4" y1="705.6" x2="1042.4" y2="714.1" stroke="#222" stroke-width="1.2" stroke-linecap="butt"/>
<line x1="1114.9" y1="705.6" x2="1114.9" y2="714.1" stroke="#222" stroke-width="1.2" stroke-linecap="butt"/>
<line x1="904.8" y1="705.6" x2="904.8" y2="710.2" stroke="#b0b0b0" stroke-width="0.9" stroke-linecap="butt"/>
<line x1="907.4" y1="705.6" x2="907.4" y2="710.2" stroke="#b0b0b0" stroke-width="0.9" stroke-linecap="butt"/>
<line x1="910.1" y1="705.6" x2="910.1" y2="710.2" stroke="#b0b0b0" stroke-width="0.9" stroke-linecap="butt"/>
<line x1="912.7" y1="705.6" x2="912.7" y2="710.2" stroke="#b0b0b0" stroke-width="0.9" stroke-linecap="butt"/>
<line x1="915.4" y1="705.6" x2="915.4" y2="710.2" stroke="#b0b0b0" stroke-width="0.9" stroke-linecap="butt"/>
<line x1="918.1" y1="705.6" x2="918.1" y2="710.2" stroke="#b0b0b0" stroke-width="0.9" stroke-linecap="butt"/>
<line x1="920.7" y1="705.6" x2="920.7" y2="710.2" stroke="#b0b0b0" stroke-width="0.9" stroke-linecap="butt"/>
<line x1="923.4" y1="705.6" x2="923.4" y2="710.2" stroke="#b0b0b0" stroke-width="0.9" stroke-linecap="butt"/>
<line x1="926.0" y1="705.6" x2="926.0" y2="713.6" stroke="#999" stroke-width="0.9" stroke-linecap="butt"/>
<line x1="931.3" y1="705.6" x2="931.3" y2="713.6" stroke="#999" stroke-width="0.9" stroke-linecap="butt"/>
<line x1="934.0" y1="705.6" x2="934.0" y2="710.2" stroke="#999" stroke-width="0.9" stroke-linecap="butt"/>
<line x1="936.7" y1="705.6" x2="936.7" y2="710.2" stroke="#999" stroke-width="0.9" stroke-linecap="butt"/>
<line x1="939.3" y1="705.6" x2="939.3" y2="710.2" stroke="#444" stroke-width="0.9" stroke-linecap="butt"/>
<line x1="942.0" y1="705.6" x2="942.0" y2="710.2" stroke="#444" stroke-width="0.9" stroke-linecap="butt"/>
<line x1="944.6" y1="705.6" x2="944.6" y2="710.2" stroke="#444" stroke-width="0.9" stroke-linecap="butt"/>
<line x1="947.3" y1="705.6" x2="947.3" y2="710.2" stroke="#444" stroke-width="0.9" stroke-linecap="butt"/>
<line x1="949.9" y1="705.6" x2="949.9" y2="710.2" stroke="#444" stroke-width="0.9" stroke-linecap="butt"/>
<line x1="952.6" y1="705.6" x2="952.6" y2="710.2" stroke="#444" stroke-width="0.9" stroke-linecap="butt"/>
<line x1="901.0" y1="705.6" x2="901.0" y2="713.6" stroke="#aaa" stroke-width="1.0" stroke-linecap="butt"/>
<line x1="928.7" y1="705.6" x2="928.7" y2="714.1" stroke="#111" stroke-width="1.3" stroke-linecap="butt"/>
<text x="841.5" y="733.2" style="font-family:'Liberation Sans',sans-serif;font-size:12.5px;font-weight:normal" fill="#333" text-anchor="middle" textLength="34.5" lengthAdjust="spacingAndGlyphs" >-4,882</text>
<text x="892.5" y="728.2" style="font-family:'Liberation Sans',sans-serif;font-size:12.5px;font-weight:normal" fill="#555" text-anchor="end" >-</text>
<text x="901.0" y="728.2" style="font-family:'Liberation Sans',sans-serif;font-size:12.5px;font-weight:normal" fill="#333" text-anchor="middle" textLength="12.2" lengthAdjust="spacingAndGlyphs" >10</text>
<text x="907.3" y="721.2" style="font-family:'Liberation Sans',sans-serif;font-size:10px;font-weight:normal" fill="#333" text-anchor="start" >3</text>
<text x="928.7" y="728.2" style="font-family:'Liberation Sans',sans-serif;font-size:12.5px;font-weight:normal" fill="#333" text-anchor="middle" >0</text>
<text x="953.1" y="728.2" style="font-family:'Liberation Sans',sans-serif;font-size:12.5px;font-weight:normal" fill="#333" text-anchor="middle" textLength="12.2" lengthAdjust="spacingAndGlyphs" >10</text>
<text x="959.4" y="721.2" style="font-family:'Liberation Sans',sans-serif;font-size:10px;font-weight:normal" fill="#333" text-anchor="start" >3</text>
<text x="1040.9" y="728.2" style="font-family:'Liberation Sans',sans-serif;font-size:12.5px;font-weight:normal" fill="#333" text-anchor="middle" textLength="12.2" lengthAdjust="spacingAndGlyphs" >10</text>
<text x="1047.2" y="721.2" style="font-family:'Liberation Sans',sans-serif;font-size:10px;font-weight:normal" fill="#333" text-anchor="start" >4</text>
<text x="1112.8" y="728.2" style="font-family:'Liberation Sans',sans-serif;font-size:12.5px;font-weight:normal" fill="#333" text-anchor="middle" textLength="12.2" lengthAdjust="spacingAndGlyphs" >10</text>
<text x="1119.1" y="721.2" style="font-family:'Liberation Sans',sans-serif;font-size:10px;font-weight:normal" fill="#333" text-anchor="start" >5</text>
<text x="830.0" y="715.4" style="font-family:'Liberation Sans',sans-serif;font-size:9.5px;font-weight:bold" fill="#5a5aff" text-anchor="start" textLength="8.9" lengthAdjust="spacingAndGlyphs" >M</text>
<text x="868.3" y="456.9" style="font-family:'Liberation Sans',sans-serif;font-size:34.3px;font-weight:bold" fill="#000" text-anchor="start" textLength="19.9" lengthAdjust="spacingAndGlyphs" >F</text>
<path d="M338.8,355.1 C340.5,354.9 346.5,355.3 349.0,353.7 C351.5,352.1 352.3,350.3 354.0,345.5 C355.7,340.7 357.9,333.6 359.1,325.1 C360.3,316.6 360.5,306.4 361.2,294.5 C361.9,282.6 362.5,268.1 363.2,253.8 C363.9,239.5 364.8,221.8 365.3,208.9 C365.8,196.0 365.9,190.9 366.3,176.3 C366.7,161.7 367.3,136.2 367.9,121.2 C368.5,106.2 369.5,92.5 370.0,86.5 C370.5,80.5 370.6,83.5 371.0,84.9 C371.4,86.3 371.9,85.2 372.4,94.7 C372.9,104.2 373.5,127.0 374.0,141.6 C374.5,156.2 375.0,170.8 375.5,182.4 C376.0,194.0 376.6,200.0 377.1,210.9 C377.6,221.8 377.9,235.3 378.5,247.6 C379.1,259.8 379.8,273.2 380.6,284.4 C381.5,295.6 382.1,307.2 383.6,315.0 C385.1,322.8 387.6,326.9 389.7,331.3 C391.8,335.7 394.2,338.4 395.9,341.5 C397.6,344.6 397.9,347.6 399.9,349.6 C401.9,351.6 404.9,352.8 408.1,353.7 C411.3,354.6 417.4,354.9 419.3,355.1 L419.3,355.1 L338.8,355.1 Z" fill="#72aeff" fill-opacity="1" stroke="none"/>
<path d="M338.8,355.1 C340.5,354.9 346.5,355.3 349.0,353.7 C351.5,352.1 352.3,350.3 354.0,345.5 C355.7,340.7 357.9,333.6 359.1,325.1 C360.3,316.6 360.5,306.4 361.2,294.5 C361.9,282.6 362.5,268.1 363.2,253.8 C363.9,239.5 364.8,221.8 365.3,208.9 C365.8,196.0 365.9,190.9 366.3,176.3 C366.7,161.7 367.3,136.2 367.9,121.2 C368.5,106.2 369.5,92.5 370.0,86.5 C370.5,80.5 370.6,83.5 371.0,84.9 C371.4,86.3 371.9,85.2 372.4,94.7 C372.9,104.2 373.5,127.0 374.0,141.6 C374.5,156.2 375.0,170.8 375.5,182.4 C376.0,194.0 376.6,200.0 377.1,210.9 C377.6,221.8 377.9,235.3 378.5,247.6 C379.1,259.8 379.8,273.2 380.6,284.4 C381.5,295.6 382.1,307.2 383.6,315.0 C385.1,322.8 387.6,326.9 389.7,331.3 C391.8,335.7 394.2,338.4 395.9,341.5 C397.6,344.6 397.9,347.6 399.9,349.6 C401.9,351.6 404.9,352.8 408.1,353.7 C411.3,354.6 417.4,354.9 419.3,355.1" fill="none" stroke="#2a80ff" stroke-width="1.3" stroke-linejoin="round"/>
<path d="M615.4,355.3 C617.7,354.6 625.6,353.0 629.0,350.8 C632.4,348.6 633.6,346.3 635.7,342.2 C637.8,338.1 639.7,330.7 641.4,326.4 C643.1,322.1 644.2,316.4 645.9,316.2 C647.6,316.0 649.6,322.9 651.5,325.3 C653.4,327.7 655.7,330.6 657.2,330.4 C658.7,330.2 659.4,328.9 660.5,324.1 C661.6,319.3 662.8,309.9 663.9,301.6 C665.0,293.3 666.0,281.1 667.3,274.5 C668.5,267.9 670.1,263.2 671.4,262.1 C672.7,261.0 674.0,262.2 675.2,267.7 C676.4,273.1 677.5,286.9 678.6,294.8 C679.7,302.7 680.9,310.3 682.0,315.1 C683.1,319.9 684.1,324.8 685.4,323.7 C686.7,322.6 688.6,313.3 689.9,308.3 C691.2,303.3 692.2,296.9 693.3,293.7 C694.4,290.5 695.6,288.9 696.7,289.1 C697.8,289.3 698.9,291.2 700.0,294.8 C701.1,298.4 702.3,305.3 703.4,310.6 C704.5,315.9 705.6,322.8 706.8,326.4 C708.0,330.0 709.4,332.8 710.7,332.0 C712.0,331.2 713.5,328.8 714.7,321.9 C715.9,314.9 717.0,298.2 718.1,290.3 C719.2,282.4 720.6,278.2 721.5,274.5 C722.4,270.8 722.9,267.8 723.7,268.2 C724.5,268.6 725.5,270.8 726.4,276.7 C727.3,282.6 728.3,295.5 729.4,303.8 C730.5,312.1 731.5,320.0 732.8,326.4 C734.1,332.8 735.0,338.4 737.3,342.2 C739.5,346.0 743.3,347.1 746.3,349.0 C749.3,350.9 751.5,352.4 755.3,353.5 C759.1,354.6 766.6,355.0 768.9,355.3 L768.9,355.3 L615.4,355.3 Z" fill="#72aeff" fill-opacity="1" stroke="none"/>
<path d="M615.4,355.3 C617.7,354.6 625.6,353.0 629.0,350.8 C632.4,348.6 633.6,346.3 635.7,342.2 C637.8,338.1 639.7,330.7 641.4,326.4 C643.1,322.1 644.2,316.4 645.9,316.2 C647.6,316.0 649.6,322.9 651.5,325.3 C653.4,327.7 655.7,330.6 657.2,330.4 C658.7,330.2 659.4,328.9 660.5,324.1 C661.6,319.3 662.8,309.9 663.9,301.6 C665.0,293.3 666.0,281.1 667.3,274.5 C668.5,267.9 670.1,263.2 671.4,262.1 C672.7,261.0 674.0,262.2 675.2,267.7 C676.4,273.1 677.5,286.9 678.6,294.8 C679.7,302.7 680.9,310.3 682.0,315.1 C683.1,319.9 684.1,324.8 685.4,323.7 C686.7,322.6 688.6,313.3 689.9,308.3 C691.2,303.3 692.2,296.9 693.3,293.7 C694.4,290.5 695.6,288.9 696.7,289.1 C697.8,289.3 698.9,291.2 700.0,294.8 C701.1,298.4 702.3,305.3 703.4,310.6 C704.5,315.9 705.6,322.8 706.8,326.4 C708.0,330.0 709.4,332.8 710.7,332.0 C712.0,331.2 713.5,328.8 714.7,321.9 C715.9,314.9 717.0,298.2 718.1,290.3 C719.2,282.4 720.6,278.2 721.5,274.5 C722.4,270.8 722.9,267.8 723.7,268.2 C724.5,268.6 725.5,270.8 726.4,276.7 C727.3,282.6 728.3,295.5 729.4,303.8 C730.5,312.1 731.5,320.0 732.8,326.4 C734.1,332.8 735.0,338.4 737.3,342.2 C739.5,346.0 743.3,347.1 746.3,349.0 C749.3,350.9 751.5,352.4 755.3,353.5 C759.1,354.6 766.6,355.0 768.9,355.3" fill="none" stroke="#2a80ff" stroke-width="1.3" stroke-linejoin="round"/>
<path d="M951.9,357.0 C953.4,356.1 958.5,353.6 960.9,351.4 C963.3,349.1 964.7,345.8 966.5,343.5 C968.3,341.2 969.6,338.6 971.7,337.8 C973.8,337.1 976.7,341.4 979.0,339.0 C981.3,336.6 983.8,329.2 985.7,323.2 C987.6,317.2 988.8,307.7 990.2,302.8 C991.6,297.9 992.8,293.4 994.3,293.8 C995.8,294.2 997.5,300.2 999.3,305.1 C1001.1,310.0 1003.3,318.7 1004.9,323.2 C1006.5,327.7 1007.7,333.3 1009.0,332.2 C1010.3,331.1 1011.4,322.4 1012.8,316.4 C1014.2,310.4 1016.0,300.8 1017.3,296.1 C1018.6,291.4 1019.4,288.2 1020.7,288.2 C1022.0,288.2 1023.7,291.4 1025.2,296.1 C1026.7,300.8 1028.2,310.4 1029.7,316.4 C1031.2,322.4 1032.7,329.9 1034.2,332.2 C1035.7,334.4 1037.3,332.5 1038.8,329.9 C1040.3,327.3 1042.0,319.7 1043.3,316.4 C1044.6,313.1 1045.4,309.7 1046.7,310.1 C1048.0,310.5 1049.7,314.9 1051.2,318.6 C1052.7,322.3 1054.2,328.9 1055.7,332.2 C1057.2,335.5 1058.7,338.5 1060.2,338.5 C1061.7,338.5 1063.2,337.4 1064.7,332.2 C1066.2,327.0 1067.9,313.4 1069.2,307.4 C1070.5,301.4 1071.5,299.3 1072.6,296.1 C1073.7,292.9 1074.9,287.8 1076.0,288.2 C1077.1,288.6 1078.3,293.2 1079.4,298.3 C1080.5,303.4 1081.7,311.8 1082.8,318.6 C1083.9,325.4 1084.7,334.3 1086.2,339.0 C1087.7,343.7 1089.4,344.6 1091.8,346.8 C1094.2,349.1 1097.0,350.8 1100.8,352.5 C1104.6,354.2 1112.1,356.2 1114.4,357.0 L1114.4,357.0 L951.9,357.0 Z" fill="#72aeff" fill-opacity="1" stroke="none"/>
<path d="M951.9,357.0 C953.4,356.1 958.5,353.6 960.9,351.4 C963.3,349.1 964.7,345.8 966.5,343.5 C968.3,341.2 969.6,338.6 971.7,337.8 C973.8,337.1 976.7,341.4 979.0,339.0 C981.3,336.6 983.8,329.2 985.7,323.2 C987.6,317.2 988.8,307.7 990.2,302.8 C991.6,297.9 992.8,293.4 994.3,293.8 C995.8,294.2 997.5,300.2 999.3,305.1 C1001.1,310.0 1003.3,318.7 1004.9,323.2 C1006.5,327.7 1007.7,333.3 1009.0,332.2 C1010.3,331.1 1011.4,322.4 1012.8,316.4 C1014.2,310.4 1016.0,300.8 1017.3,296.1 C1018.6,291.4 1019.4,288.2 1020.7,288.2 C1022.0,288.2 1023.7,291.4 1025.2,296.1 C1026.7,300.8 1028.2,310.4 1029.7,316.4 C1031.2,322.4 1032.7,329.9 1034.2,332.2 C1035.7,334.4 1037.3,332.5 1038.8,329.9 C1040.3,327.3 1042.0,319.7 1043.3,316.4 C1044.6,313.1 1045.4,309.7 1046.7,310.1 C1048.0,310.5 1049.7,314.9 1051.2,318.6 C1052.7,322.3 1054.2,328.9 1055.7,332.2 C1057.2,335.5 1058.7,338.5 1060.2,338.5 C1061.7,338.5 1063.2,337.4 1064.7,332.2 C1066.2,327.0 1067.9,313.4 1069.2,307.4 C1070.5,301.4 1071.5,299.3 1072.6,296.1 C1073.7,292.9 1074.9,287.8 1076.0,288.2 C1077.1,288.6 1078.3,293.2 1079.4,298.3 C1080.5,303.4 1081.7,311.8 1082.8,318.6 C1083.9,325.4 1084.7,334.3 1086.2,339.0 C1087.7,343.7 1089.4,344.6 1091.8,346.8 C1094.2,349.1 1097.0,350.8 1100.8,352.5 C1104.6,354.2 1112.1,356.2 1114.4,357.0" fill="none" stroke="#2a80ff" stroke-width="1.3" stroke-linejoin="round"/>
<path d="M268.8,704.0 C270.8,703.6 278.1,703.5 280.9,701.9 C283.7,700.3 284.4,699.1 285.7,694.2 C287.0,689.3 287.7,679.7 288.5,672.4 C289.3,665.1 290.0,659.6 290.7,650.5 C291.4,641.4 292.2,630.5 292.9,617.7 C293.6,605.0 294.4,590.4 295.1,574.0 C295.8,557.6 296.5,536.4 297.2,519.3 C297.9,502.2 298.7,483.0 299.4,471.2 C300.1,459.4 300.9,450.1 301.6,448.3 C302.3,446.5 303.1,453.6 303.8,460.3 C304.5,467.0 305.3,477.0 306.0,488.7 C306.7,500.4 307.5,517.1 308.2,530.2 C308.9,543.3 309.7,555.4 310.4,567.4 C311.1,579.4 311.7,592.2 312.6,602.4 C313.5,612.6 314.5,620.6 315.8,628.6 C317.1,636.6 318.7,644.7 320.2,650.5 C321.7,656.3 323.1,660.0 324.6,663.6 C326.1,667.2 327.2,668.8 329.0,672.4 C330.8,676.0 332.9,681.7 335.5,685.5 C338.1,689.3 340.7,692.6 344.3,695.3 C347.9,698.0 351.0,700.4 357.4,701.9 C363.8,703.4 378.3,703.6 382.5,704.0 L382.5,704.7 L268.8,704.7 Z" fill="#72aeff" fill-opacity="1" stroke="none"/>
<path d="M268.8,704.0 C270.8,703.6 278.1,703.5 280.9,701.9 C283.7,700.3 284.4,699.1 285.7,694.2 C287.0,689.3 287.7,679.7 288.5,672.4 C289.3,665.1 290.0,659.6 290.7,650.5 C291.4,641.4 292.2,630.5 292.9,617.7 C293.6,605.0 294.4,590.4 295.1,574.0 C295.8,557.6 296.5,536.4 297.2,519.3 C297.9,502.2 298.7,483.0 299.4,471.2 C300.1,459.4 300.9,450.1 301.6,448.3 C302.3,446.5 303.1,453.6 303.8,460.3 C304.5,467.0 305.3,477.0 306.0,488.7 C306.7,500.4 307.5,517.1 308.2,530.2 C308.9,543.3 309.7,555.4 310.4,567.4 C311.1,579.4 311.7,592.2 312.6,602.4 C313.5,612.6 314.5,620.6 315.8,628.6 C317.1,636.6 318.7,644.7 320.2,650.5 C321.7,656.3 323.1,660.0 324.6,663.6 C326.1,667.2 327.2,668.8 329.0,672.4 C330.8,676.0 332.9,681.7 335.5,685.5 C338.1,689.3 340.7,692.6 344.3,695.3 C347.9,698.0 351.0,700.4 357.4,701.9 C363.8,703.4 378.3,703.6 382.5,704.0" fill="none" stroke="#2a80ff" stroke-width="1.3" stroke-linejoin="round"/>
<path d="M590.6,706.8 C591.7,706.4 595.3,705.6 597.4,704.5 C599.5,703.4 601.1,700.4 603.0,700.0 C604.9,699.6 606.5,701.6 608.6,702.3 C610.7,703.0 613.3,704.5 615.4,704.1 C617.5,703.7 619.2,701.3 621.1,700.0 C623.0,698.7 625.0,696.6 626.7,696.2 C628.4,695.8 629.7,696.9 631.2,697.7 C632.7,698.5 634.2,701.3 635.7,701.1 C637.2,700.9 639.1,700.0 640.2,696.6 C641.3,693.2 641.8,687.2 642.5,680.8 C643.2,674.4 644.0,667.6 644.7,658.2 C645.5,648.8 646.2,637.5 647.0,624.4 C647.8,611.2 648.5,595.1 649.3,579.3 C650.0,563.5 650.8,543.5 651.5,529.6 C652.2,515.7 653.0,504.1 653.8,495.8 C654.6,487.5 655.6,480.0 656.5,480.0 C657.4,480.0 658.5,487.5 659.4,495.8 C660.3,504.1 661.0,517.6 661.7,529.6 C662.5,541.6 663.1,556.0 663.9,568.0 C664.6,580.0 665.2,590.5 666.2,601.8 C667.2,613.1 668.3,626.7 669.6,635.7 C670.9,644.7 672.4,651.1 674.1,656.0 C675.8,660.9 677.8,662.9 679.7,665.0 C681.6,667.1 683.9,666.5 685.4,668.4 C686.9,670.3 687.5,673.5 688.8,676.3 C690.1,679.1 691.6,682.5 693.3,685.3 C695.0,688.1 696.8,690.9 698.9,693.2 C701.0,695.5 702.7,697.1 705.7,698.9 C708.7,700.7 711.2,702.8 717.0,704.1 C722.8,705.4 736.8,706.3 740.7,706.8 L740.7,707.4 L590.6,707.4 Z" fill="#72aeff" fill-opacity="1" stroke="none"/>
<path d="M590.6,706.8 C591.7,706.4 595.3,705.6 597.4,704.5 C599.5,703.4 601.1,700.4 603.0,700.0 C604.9,699.6 606.5,701.6 608.6,702.3 C610.7,703.0 613.3,704.5 615.4,704.1 C617.5,703.7 619.2,701.3 621.1,700.0 C623.0,698.7 625.0,696.6 626.7,696.2 C628.4,695.8 629.7,696.9 631.2,697.7 C632.7,698.5 634.2,701.3 635.7,701.1 C637.2,700.9 639.1,700.0 640.2,696.6 C641.3,693.2 641.8,687.2 642.5,680.8 C643.2,674.4 644.0,667.6 644.7,658.2 C645.5,648.8 646.2,637.5 647.0,624.4 C647.8,611.2 648.5,595.1 649.3,579.3 C650.0,563.5 650.8,543.5 651.5,529.6 C652.2,515.7 653.0,504.1 653.8,495.8 C654.6,487.5 655.6,480.0 656.5,480.0 C657.4,480.0 658.5,487.5 659.4,495.8 C660.3,504.1 661.0,517.6 661.7,529.6 C662.5,541.6 663.1,556.0 663.9,568.0 C664.6,580.0 665.2,590.5 666.2,601.8 C667.2,613.1 668.3,626.7 669.6,635.7 C670.9,644.7 672.4,651.1 674.1,656.0 C675.8,660.9 677.8,662.9 679.7,665.0 C681.6,667.1 683.9,666.5 685.4,668.4 C686.9,670.3 687.5,673.5 688.8,676.3 C690.1,679.1 691.6,682.5 693.3,685.3 C695.0,688.1 696.8,690.9 698.9,693.2 C701.0,695.5 702.7,697.1 705.7,698.9 C708.7,700.7 711.2,702.8 717.0,704.1 C722.8,705.4 736.8,706.3 740.7,706.8" fill="none" stroke="#2a80ff" stroke-width="1.3" stroke-linejoin="round"/>
<path d="M967.7,705.6 C968.3,704.9 970.0,705.2 971.1,701.1 C972.2,697.0 973.3,688.7 974.4,680.8 C975.5,672.9 976.7,662.0 977.8,653.7 C978.9,645.4 979.8,636.7 980.8,631.2 C981.8,625.8 982.6,623.1 983.5,621.0 C984.4,618.9 985.3,617.8 986.2,618.8 C987.1,619.8 988.2,622.8 989.1,626.7 C990.0,630.7 990.5,636.5 991.4,642.5 C992.3,648.5 993.6,657.2 994.7,662.8 C995.8,668.4 996.8,672.5 998.1,676.3 C999.4,680.0 1000.9,682.8 1002.6,685.3 C1004.3,687.8 1006.2,689.5 1008.3,691.0 C1010.4,692.5 1012.9,693.1 1015.1,694.4 C1017.4,695.7 1019.5,697.6 1021.8,698.9 C1024.0,700.2 1025.2,701.4 1028.6,702.3 C1032.0,703.2 1037.2,703.5 1042.1,704.1 C1047.0,704.7 1055.3,705.4 1057.9,705.6 L1057.9,705.6 L967.7,705.6 Z" fill="#72aeff" fill-opacity="1" stroke="none"/>
<path d="M967.7,705.6 C968.3,704.9 970.0,705.2 971.1,701.1 C972.2,697.0 973.3,688.7 974.4,680.8 C975.5,672.9 976.7,662.0 977.8,653.7 C978.9,645.4 979.8,636.7 980.8,631.2 C981.8,625.8 982.6,623.1 983.5,621.0 C984.4,618.9 985.3,617.8 986.2,618.8 C987.1,619.8 988.2,622.8 989.1,626.7 C990.0,630.7 990.5,636.5 991.4,642.5 C992.3,648.5 993.6,657.2 994.7,662.8 C995.8,668.4 996.8,672.5 998.1,676.3 C999.4,680.0 1000.9,682.8 1002.6,685.3 C1004.3,687.8 1006.2,689.5 1008.3,691.0 C1010.4,692.5 1012.9,693.1 1015.1,694.4 C1017.4,695.7 1019.5,697.6 1021.8,698.9 C1024.0,700.2 1025.2,701.4 1028.6,702.3 C1032.0,703.2 1037.2,703.5 1042.1,704.1 C1047.0,704.7 1055.3,705.4 1057.9,705.6" fill="none" stroke="#2a80ff" stroke-width="1.3" stroke-linejoin="round"/>
<rect x="540.0" y="246.0" width="164.0" height="7.4" fill="#000"/>
<rect x="536.4" y="231.6" width="7.3" height="38.8" fill="#000"/>
<rect x="700.0" y="231.6" width="7.3" height="38.8" fill="#000"/>
<text x="566.2" y="234.9" style="font-family:'Liberation Serif',serif;font-size:40px;font-weight:normal" fill="#000" text-anchor="start" textLength="110.1" lengthAdjust="spacingAndGlyphs" >71.0 %</text>
<rect x="895.0" y="240.1" width="164.0" height="8.1" fill="#000"/>
<rect x="891.4" y="225.7" width="7.3" height="39.2" fill="#000"/>
<rect x="1055.2" y="225.7" width="7.3" height="39.2" fill="#000"/>
<text x="920.6" y="234.7" style="font-family:'Liberation Serif',serif;font-size:39.7px;font-weight:normal" fill="#000" text-anchor="start" textLength="110.4" lengthAdjust="spacingAndGlyphs" >75.5 %</text>
<rect x="530.0" y="568.5" width="109.0" height="7.9" fill="#000"/>
<rect x="527.0" y="556.7" width="7.3" height="35.0" fill="#000"/>
<rect x="635.3" y="556.7" width="7.3" height="35.0" fill="#000"/>
<text x="544.3" y="555.8" style="font-family:'Liberation Serif',serif;font-size:40px;font-weight:normal" fill="#000" text-anchor="start" textLength="88.2" lengthAdjust="spacingAndGlyphs" >6.4 %</text>
<rect x="847.0" y="569.0" width="108.0" height="8.0" fill="#000"/>
<rect x="844.0" y="556.7" width="7.0" height="35.0" fill="#000"/>
<rect x="951.9" y="556.7" width="7.0" height="35.0" fill="#000"/>
<text x="868.0" y="549.9" style="font-family:'Liberation Serif',serif;font-size:40px;font-weight:normal" fill="#000" text-anchor="start" textLength="61.5" lengthAdjust="spacingAndGlyphs" >0 %</text>
<text x="582.0" y="608.4" style="font-family:'Liberation Serif',serif;font-size:41px;font-weight:bold" fill="#ff0000" text-anchor="start" textLength="27.6" lengthAdjust="spacingAndGlyphs" >X</text>
<text x="916.2" y="639.7" style="font-family:'Liberation Serif',serif;font-size:41px;font-weight:bold" fill="#ff0000" text-anchor="start" textLength="27.1" lengthAdjust="spacingAndGlyphs" >X</text>
<line x1="64.9" y1="744.3" x2="63.0" y2="71.3" stroke="#000" stroke-width="3.4" stroke-linecap="butt"/>
<polyline points="51.0,92.7 63.0,71.8 75.0,92.7" fill="none" stroke="#000" stroke-width="3.4" stroke-linecap="round" stroke-linejoin="miter"/>
<line x1="63.2" y1="742.7" x2="1181.9" y2="742.7" stroke="#000" stroke-width="3.4" stroke-linecap="butt"/>
<polyline points="1160.5,730.0 1181.4,742.7 1160.5,755.4" fill="none" stroke="#000" stroke-width="3.4" stroke-linecap="round" stroke-linejoin="miter"/>
<text x="244.1" y="934.7" style="font-family:'Liberation Serif',serif;font-size:41.8px;font-weight:normal" fill="#000" text-anchor="start" textLength="114.6" lengthAdjust="spacingAndGlyphs" >patient</text>
<text x="727.1" y="939.8" style="font-family:'Liberation Serif',serif;font-size:41.6px;font-weight:normal" fill="#000" text-anchor="start" textLength="252.1" lengthAdjust="spacingAndGlyphs" >healthy control</text>
<text transform="translate(43.4,1250.8) rotate(-90)" style="font-family:'Liberation Serif',serif;font-size:50.5px;font-weight:normal" fill="#000" text-anchor="start" textLength="120.1" lengthAdjust="spacingAndGlyphs">Count</text>
<text x="268.5" y="1504.3" style="font-family:'Liberation Serif',serif;font-size:48.2px;font-weight:normal" fill="#000" text-anchor="start" textLength="519.5" lengthAdjust="spacingAndGlyphs" >pSTAT5A Alexa Fluor 647</text>
<line x1="127.8" y1="969.8" x2="576.6" y2="969.8" stroke="#444" stroke-width="1.4" stroke-linecap="butt"/>
<line x1="576.6" y1="969.8" x2="576.6" y2="1372.8" stroke="#222" stroke-width="1.5" stroke-linecap="butt"/>
<line x1="127.8" y1="1372.8" x2="576.6" y2="1372.8" stroke="#222" stroke-width="1.5" stroke-linecap="butt"/>
<line x1="127.8" y1="969.8" x2="127.8" y2="1383.8" stroke="#444" stroke-width="1.4" stroke-linecap="butt"/>
<line x1="122.3" y1="1372.8" x2="127.8" y2="1372.8" stroke="#333" stroke-width="1.2" stroke-linecap="butt"/>
<line x1="122.3" y1="1346.8" x2="127.8" y2="1346.8" stroke="#333" stroke-width="1.2" stroke-linecap="butt"/>
<line x1="122.3" y1="1320.8" x2="127.8" y2="1320.8" stroke="#333" stroke-width="1.2" stroke-linecap="butt"/>
<line x1="122.3" y1="1294.8" x2="127.8" y2="1294.8" stroke="#333" stroke-width="1.2" stroke-linecap="butt"/>
<line x1="122.3" y1="1268.8" x2="127.8" y2="1268.8" stroke="#333" stroke-width="1.2" stroke-linecap="butt"/>
<line x1="122.3" y1="1242.8" x2="127.8" y2="1242.8" stroke="#333" stroke-width="1.2" stroke-linecap="butt"/>
<line x1="122.3" y1="1216.7" x2="127.8" y2="1216.7" stroke="#333" stroke-width="1.2" stroke-linecap="butt"/>
<line x1="122.3" y1="1190.7" x2="127.8" y2="1190.7" stroke="#333" stroke-width="1.2" stroke-linecap="butt"/>
<line x1="122.3" y1="1164.7" x2="127.8" y2="1164.7" stroke="#333" stroke-width="1.2" stroke-linecap="butt"/>
<line x1="122.3" y1="1138.7" x2="127.8" y2="1138.7" stroke="#333" stroke-width="1.2" stroke-linecap="butt"/>
<line x1="122.3" y1="1112.7" x2="127.8" y2="1112.7" stroke="#333" stroke-width="1.2" stroke-linecap="butt"/>
<line x1="122.3" y1="1086.7" x2="127.8" y2="1086.7" stroke="#333" stroke-width="1.2" stroke-linecap="butt"/>
<line x1="122.3" y1="1060.7" x2="127.8" y2="1060.7" stroke="#333" stroke-width="1.2" stroke-linecap="butt"/>
<line x1="122.3" y1="1034.7" x2="127.8" y2="1034.7" stroke="#333" stroke-width="1.2" stroke-linecap="butt"/>
<line x1="122.3" y1="1008.7" x2="127.8" y2="1008.7" stroke="#333" stroke-width="1.2" stroke-linecap="butt"/>
<line x1="122.3" y1="982.6" x2="127.8" y2="982.6" stroke="#333" stroke-width="1.2" stroke-linecap="butt"/>
<line x1="117.3" y1="1372.8" x2="127.8" y2="1372.8" stroke="#333" stroke-width="1.2" stroke-linecap="butt"/>
<line x1="117.3" y1="1242.8" x2="127.8" y2="1242.8" stroke="#333" stroke-width="1.2" stroke-linecap="butt"/>
<line x1="117.3" y1="1112.7" x2="127.8" y2="1112.7" stroke="#333" stroke-width="1.2" stroke-linecap="butt"/>
<line x1="117.3" y1="982.6" x2="127.8" y2="982.6" stroke="#333" stroke-width="1.2" stroke-linecap="butt"/>
<text transform="translate(117.5,1372.8) rotate(-90)" style="font-family:'Liberation Sans',sans-serif;font-size:17px;font-weight:normal" fill="#333" text-anchor="middle" textLength="9.5" lengthAdjust="spacingAndGlyphs">0</text>
<text transform="translate(117.5,1242.8) rotate(-90)" style="font-family:'Liberation Sans',sans-serif;font-size:17px;font-weight:normal" fill="#333" text-anchor="middle" textLength="25.4" lengthAdjust="spacingAndGlyphs">500</text>
<text transform="translate(117.5,1112.7) rotate(-90)" style="font-family:'Liberation Sans',sans-serif;font-size:17px;font-weight:normal" fill="#333" text-anchor="middle" textLength="39.0" lengthAdjust="spacingAndGlyphs">1,000</text>
<text transform="translate(117.5,982.6) rotate(-90)" style="font-family:'Liberation Sans',sans-serif;font-size:17px;font-weight:normal" fill="#333" text-anchor="middle" textLength="39.0" lengthAdjust="spacingAndGlyphs">1,500</text>
<line x1="169.4" y1="1372.8" x2="169.4" y2="1382.8" stroke="#222" stroke-width="1.3" stroke-linecap="butt"/>
<line x1="195.6" y1="1372.8" x2="195.6" y2="1382.8" stroke="#222" stroke-width="1.3" stroke-linecap="butt"/>
<line x1="222.7" y1="1372.8" x2="222.7" y2="1382.8" stroke="#222" stroke-width="1.3" stroke-linecap="butt"/>
<line x1="325.5" y1="1372.8" x2="325.5" y2="1382.8" stroke="#222" stroke-width="1.3" stroke-linecap="butt"/>
<line x1="431.8" y1="1372.8" x2="431.8" y2="1382.8" stroke="#222" stroke-width="1.3" stroke-linecap="butt"/>
<line x1="533.6" y1="1372.8" x2="533.6" y2="1382.8" stroke="#222" stroke-width="1.3" stroke-linecap="butt"/>
<line x1="145.7" y1="1372.8" x2="145.7" y2="1378.8" stroke="#222" stroke-width="1.2" stroke-linecap="butt"/>
<line x1="245.6" y1="1372.8" x2="245.6" y2="1378.8" stroke="#222" stroke-width="1.2" stroke-linecap="butt"/>
<line x1="263.3" y1="1372.8" x2="263.3" y2="1378.8" stroke="#222" stroke-width="1.2" stroke-linecap="butt"/>
<line x1="277.7" y1="1372.8" x2="277.7" y2="1378.8" stroke="#222" stroke-width="1.2" stroke-linecap="butt"/>
<line x1="291.3" y1="1372.8" x2="291.3" y2="1378.8" stroke="#222" stroke-width="1.2" stroke-linecap="butt"/>
<line x1="300.6" y1="1372.8" x2="300.6" y2="1378.8" stroke="#222" stroke-width="1.2" stroke-linecap="butt"/>
<line x1="309.0" y1="1372.8" x2="309.0" y2="1378.8" stroke="#222" stroke-width="1.2" stroke-linecap="butt"/>
<line x1="315.0" y1="1372.8" x2="315.0" y2="1378.8" stroke="#222" stroke-width="1.2" stroke-linecap="butt"/>
<line x1="320.9" y1="1372.8" x2="320.9" y2="1378.8" stroke="#222" stroke-width="1.2" stroke-linecap="butt"/>
<line x1="360.3" y1="1372.8" x2="360.3" y2="1378.8" stroke="#222" stroke-width="1.2" stroke-linecap="butt"/>
<line x1="378.7" y1="1372.8" x2="378.7" y2="1378.8" stroke="#222" stroke-width="1.2" stroke-linecap="butt"/>
<line x1="392.4" y1="1372.8" x2="392.4" y2="1378.8" stroke="#222" stroke-width="1.2" stroke-linecap="butt"/>
<line x1="402.5" y1="1372.8" x2="402.5" y2="1378.8" stroke="#222" stroke-width="1.2" stroke-linecap="butt"/>
<line x1="410.8" y1="1372.8" x2="410.8" y2="1378.8" stroke="#222" stroke-width="1.2" stroke-linecap="butt"/>
<line x1="418.1" y1="1372.8" x2="418.1" y2="1378.8" stroke="#222" stroke-width="1.2" stroke-linecap="butt"/>
<line x1="423.6" y1="1372.8" x2="423.6" y2="1378.8" stroke="#222" stroke-width="1.2" stroke-linecap="butt"/>
<line x1="428.2" y1="1372.8" x2="428.2" y2="1378.8" stroke="#222" stroke-width="1.2" stroke-linecap="butt"/>
<line x1="463.9" y1="1372.8" x2="463.9" y2="1378.8" stroke="#222" stroke-width="1.2" stroke-linecap="butt"/>
<line x1="481.3" y1="1372.8" x2="481.3" y2="1378.8" stroke="#222" stroke-width="1.2" stroke-linecap="butt"/>
<line x1="495.1" y1="1372.8" x2="495.1" y2="1378.8" stroke="#222" stroke-width="1.2" stroke-linecap="butt"/>
<line x1="503.3" y1="1372.8" x2="503.3" y2="1378.8" stroke="#222" stroke-width="1.2" stroke-linecap="butt"/>
<line x1="512.5" y1="1372.8" x2="512.5" y2="1378.8" stroke="#222" stroke-width="1.2" stroke-linecap="butt"/>
<line x1="518.9" y1="1372.8" x2="518.9" y2="1378.8" stroke="#222" stroke-width="1.2" stroke-linecap="butt"/>
<line x1="524.4" y1="1372.8" x2="524.4" y2="1378.8" stroke="#222" stroke-width="1.2" stroke-linecap="butt"/>
<line x1="529.0" y1="1372.8" x2="529.0" y2="1378.8" stroke="#222" stroke-width="1.2" stroke-linecap="butt"/>
<line x1="563.9" y1="1372.8" x2="563.9" y2="1378.8" stroke="#222" stroke-width="1.2" stroke-linecap="butt"/>
<line x1="169.4" y1="1372.8" x2="169.4" y2="1379.8" stroke="#666" stroke-width="0.9" stroke-linecap="butt"/>
<line x1="172.1" y1="1372.8" x2="172.1" y2="1379.8" stroke="#666" stroke-width="0.9" stroke-linecap="butt"/>
<line x1="174.7" y1="1372.8" x2="174.7" y2="1379.8" stroke="#666" stroke-width="0.9" stroke-linecap="butt"/>
<line x1="177.4" y1="1372.8" x2="177.4" y2="1379.8" stroke="#666" stroke-width="0.9" stroke-linecap="butt"/>
<line x1="180.1" y1="1372.8" x2="180.1" y2="1379.8" stroke="#666" stroke-width="0.9" stroke-linecap="butt"/>
<line x1="182.7" y1="1372.8" x2="182.7" y2="1379.8" stroke="#666" stroke-width="0.9" stroke-linecap="butt"/>
<line x1="185.4" y1="1372.8" x2="185.4" y2="1379.8" stroke="#666" stroke-width="0.9" stroke-linecap="butt"/>
<line x1="188.1" y1="1372.8" x2="188.1" y2="1379.8" stroke="#666" stroke-width="0.9" stroke-linecap="butt"/>
<line x1="190.7" y1="1372.8" x2="190.7" y2="1379.8" stroke="#666" stroke-width="0.9" stroke-linecap="butt"/>
<line x1="193.4" y1="1372.8" x2="193.4" y2="1381.8" stroke="#666" stroke-width="0.9" stroke-linecap="butt"/>
<line x1="196.0" y1="1372.8" x2="196.0" y2="1381.8" stroke="#666" stroke-width="0.9" stroke-linecap="butt"/>
<line x1="198.7" y1="1372.8" x2="198.7" y2="1381.8" stroke="#666" stroke-width="0.9" stroke-linecap="butt"/>
<line x1="201.4" y1="1372.8" x2="201.4" y2="1379.8" stroke="#666" stroke-width="0.9" stroke-linecap="butt"/>
<line x1="204.0" y1="1372.8" x2="204.0" y2="1379.8" stroke="#666" stroke-width="0.9" stroke-linecap="butt"/>
<line x1="206.7" y1="1372.8" x2="206.7" y2="1379.8" stroke="#666" stroke-width="0.9" stroke-linecap="butt"/>
<line x1="209.4" y1="1372.8" x2="209.4" y2="1379.8" stroke="#666" stroke-width="0.9" stroke-linecap="butt"/>
<line x1="212.0" y1="1372.8" x2="212.0" y2="1379.8" stroke="#666" stroke-width="0.9" stroke-linecap="butt"/>
<line x1="214.7" y1="1372.8" x2="214.7" y2="1379.8" stroke="#666" stroke-width="0.9" stroke-linecap="butt"/>
<line x1="217.4" y1="1372.8" x2="217.4" y2="1379.8" stroke="#666" stroke-width="0.9" stroke-linecap="butt"/>
<line x1="220.0" y1="1372.8" x2="220.0" y2="1379.8" stroke="#666" stroke-width="0.9" stroke-linecap="butt"/>
<line x1="222.7" y1="1372.8" x2="222.7" y2="1379.8" stroke="#666" stroke-width="0.9" stroke-linecap="butt"/>
<text x="108.5" y="1407.7" style="font-family:'Liberation Sans',sans-serif;font-size:16.3px;font-weight:normal" fill="#333" text-anchor="start" textLength="34.7" lengthAdjust="spacingAndGlyphs" >-304</text>
<text x="151.6" y="1401.1" style="font-family:'Liberation Sans',sans-serif;font-size:16.3px;font-weight:normal" fill="#333" text-anchor="start" textLength="23.5" lengthAdjust="spacingAndGlyphs" >-10</text>
<text x="177.3" y="1391.3" style="font-family:'Liberation Sans',sans-serif;font-size:15.5px;font-weight:normal" fill="#333" text-anchor="start" textLength="7.6" lengthAdjust="spacingAndGlyphs" >2</text>
<text x="191.4" y="1401.1" style="font-family:'Liberation Sans',sans-serif;font-size:16.3px;font-weight:normal" fill="#333" text-anchor="start" textLength="7.6" lengthAdjust="spacingAndGlyphs" >0</text>
<text x="210.0" y="1401.1" style="font-family:'Liberation Sans',sans-serif;font-size:16.3px;font-weight:normal" fill="#333" text-anchor="start" textLength="16.4" lengthAdjust="spacingAndGlyphs" >10</text>
<text x="228.6" y="1391.3" style="font-family:'Liberation Sans',sans-serif;font-size:15.5px;font-weight:normal" fill="#333" text-anchor="start" textLength="7.6" lengthAdjust="spacingAndGlyphs" >2</text>
<text x="312.4" y="1401.1" style="font-family:'Liberation Sans',sans-serif;font-size:16.3px;font-weight:normal" fill="#333" text-anchor="start" textLength="16.4" lengthAdjust="spacingAndGlyphs" >10</text>
<text x="331.0" y="1391.3" style="font-family:'Liberation Sans',sans-serif;font-size:15.5px;font-weight:normal" fill="#333" text-anchor="start" textLength="7.6" lengthAdjust="spacingAndGlyphs" >3</text>
<text x="420.0" y="1401.1" style="font-family:'Liberation Sans',sans-serif;font-size:16.3px;font-weight:normal" fill="#333" text-anchor="start" textLength="16.4" lengthAdjust="spacingAndGlyphs" >10</text>
<text x="438.6" y="1391.3" style="font-family:'Liberation Sans',sans-serif;font-size:15.5px;font-weight:normal" fill="#333" text-anchor="start" textLength="7.6" lengthAdjust="spacingAndGlyphs" >4</text>
<text x="522.0" y="1401.1" style="font-family:'Liberation Sans',sans-serif;font-size:16.3px;font-weight:normal" fill="#333" text-anchor="start" textLength="16.4" lengthAdjust="spacingAndGlyphs" >10</text>
<text x="540.6" y="1391.3" style="font-family:'Liberation Sans',sans-serif;font-size:15.5px;font-weight:normal" fill="#333" text-anchor="start" textLength="7.6" lengthAdjust="spacingAndGlyphs" >5</text>
<text x="143.3" y="1013.2" style="font-family:'Liberation Sans',sans-serif;font-size:34.3px;font-weight:bold" fill="#000" text-anchor="start" textLength="25.6" lengthAdjust="spacingAndGlyphs" >G</text>
<line x1="654.3" y1="966.9" x2="1102.1" y2="966.9" stroke="#444" stroke-width="1.4" stroke-linecap="butt"/>
<line x1="1102.1" y1="966.9" x2="1102.1" y2="1372.6" stroke="#222" stroke-width="1.5" stroke-linecap="butt"/>
<line x1="654.3" y1="1372.6" x2="1102.1" y2="1372.6" stroke="#222" stroke-width="1.5" stroke-linecap="butt"/>
<line x1="654.3" y1="966.9" x2="654.3" y2="1383.6" stroke="#444" stroke-width="1.4" stroke-linecap="butt"/>
<line x1="648.8" y1="1372.6" x2="654.3" y2="1372.6" stroke="#333" stroke-width="1.2" stroke-linecap="butt"/>
<line x1="648.8" y1="1358.8" x2="654.3" y2="1358.8" stroke="#333" stroke-width="1.2" stroke-linecap="butt"/>
<line x1="648.8" y1="1345.0" x2="654.3" y2="1345.0" stroke="#333" stroke-width="1.2" stroke-linecap="butt"/>
<line x1="648.8" y1="1331.3" x2="654.3" y2="1331.3" stroke="#333" stroke-width="1.2" stroke-linecap="butt"/>
<line x1="648.8" y1="1317.5" x2="654.3" y2="1317.5" stroke="#333" stroke-width="1.2" stroke-linecap="butt"/>
<line x1="648.8" y1="1303.7" x2="654.3" y2="1303.7" stroke="#333" stroke-width="1.2" stroke-linecap="butt"/>
<line x1="648.8" y1="1289.9" x2="654.3" y2="1289.9" stroke="#333" stroke-width="1.2" stroke-linecap="butt"/>
<line x1="648.8" y1="1276.1" x2="654.3" y2="1276.1" stroke="#333" stroke-width="1.2" stroke-linecap="butt"/>
<line x1="648.8" y1="1262.4" x2="654.3" y2="1262.4" stroke="#333" stroke-width="1.2" stroke-linecap="butt"/>
<line x1="648.8" y1="1248.6" x2="654.3" y2="1248.6" stroke="#333" stroke-width="1.2" stroke-linecap="butt"/>
<line x1="648.8" y1="1234.8" x2="654.3" y2="1234.8" stroke="#333" stroke-width="1.2" stroke-linecap="butt"/>
<line x1="648.8" y1="1221.0" x2="654.3" y2="1221.0" stroke="#333" stroke-width="1.2" stroke-linecap="butt"/>
<line x1="648.8" y1="1207.2" x2="654.3" y2="1207.2" stroke="#333" stroke-width="1.2" stroke-linecap="butt"/>
<line x1="648.8" y1="1193.5" x2="654.3" y2="1193.5" stroke="#333" stroke-width="1.2" stroke-linecap="butt"/>
<line x1="648.8" y1="1179.7" x2="654.3" y2="1179.7" stroke="#333" stroke-width="1.2" stroke-linecap="butt"/>
<line x1="648.8" y1="1165.9" x2="654.3" y2="1165.9" stroke="#333" stroke-width="1.2" stroke-linecap="butt"/>
<line x1="648.8" y1="1152.1" x2="654.3" y2="1152.1" stroke="#333" stroke-width="1.2" stroke-linecap="butt"/>
<line x1="648.8" y1="1138.3" x2="654.3" y2="1138.3" stroke="#333" stroke-width="1.2" stroke-linecap="butt"/>
<line x1="648.8" y1="1124.6" x2="654.3" y2="1124.6" stroke="#333" stroke-width="1.2" stroke-linecap="butt"/>
<line x1="648.8" y1="1110.8" x2="654.3" y2="1110.8" stroke="#333" stroke-width="1.2" stroke-linecap="butt"/>
<line x1="648.8" y1="1097.0" x2="654.3" y2="1097.0" stroke="#333" stroke-width="1.2" stroke-linecap="butt"/>
<line x1="648.8" y1="1083.2" x2="654.3" y2="1083.2" stroke="#333" stroke-width="1.2" stroke-linecap="butt"/>
<line x1="648.8" y1="1069.4" x2="654.3" y2="1069.4" stroke="#333" stroke-width="1.2" stroke-linecap="butt"/>
<line x1="648.8" y1="1055.7" x2="654.3" y2="1055.7" stroke="#333" stroke-width="1.2" stroke-linecap="butt"/>
<line x1="648.8" y1="1041.9" x2="654.3" y2="1041.9" stroke="#333" stroke-width="1.2" stroke-linecap="butt"/>
<line x1="648.8" y1="1028.1" x2="654.3" y2="1028.1" stroke="#333" stroke-width="1.2" stroke-linecap="butt"/>
<line x1="648.8" y1="1014.3" x2="654.3" y2="1014.3" stroke="#333" stroke-width="1.2" stroke-linecap="butt"/>
<line x1="648.8" y1="1000.5" x2="654.3" y2="1000.5" stroke="#333" stroke-width="1.2" stroke-linecap="butt"/>
<line x1="648.8" y1="986.8" x2="654.3" y2="986.8" stroke="#333" stroke-width="1.2" stroke-linecap="butt"/>
<line x1="648.8" y1="973.0" x2="654.3" y2="973.0" stroke="#333" stroke-width="1.2" stroke-linecap="butt"/>
<line x1="643.8" y1="1372.6" x2="654.3" y2="1372.6" stroke="#333" stroke-width="1.2" stroke-linecap="butt"/>
<line x1="643.8" y1="1303.7" x2="654.3" y2="1303.7" stroke="#333" stroke-width="1.2" stroke-linecap="butt"/>
<line x1="643.8" y1="1234.8" x2="654.3" y2="1234.8" stroke="#333" stroke-width="1.2" stroke-linecap="butt"/>
<line x1="643.8" y1="1165.9" x2="654.3" y2="1165.9" stroke="#333" stroke-width="1.2" stroke-linecap="butt"/>
<line x1="643.8" y1="1097.0" x2="654.3" y2="1097.0" stroke="#333" stroke-width="1.2" stroke-linecap="butt"/>
<line x1="643.8" y1="1028.1" x2="654.3" y2="1028.1" stroke="#333" stroke-width="1.2" stroke-linecap="butt"/>
<text transform="translate(644.0,1372.6) rotate(-90)" style="font-family:'Liberation Sans',sans-serif;font-size:17px;font-weight:normal" fill="#333" text-anchor="middle" textLength="9.5" lengthAdjust="spacingAndGlyphs">0</text>
<text transform="translate(644.0,1303.7) rotate(-90)" style="font-family:'Liberation Sans',sans-serif;font-size:17px;font-weight:normal" fill="#333" text-anchor="middle" textLength="26.6" lengthAdjust="spacingAndGlyphs">100</text>
<text transform="translate(644.0,1234.8) rotate(-90)" style="font-family:'Liberation Sans',sans-serif;font-size:17px;font-weight:normal" fill="#333" text-anchor="middle" textLength="26.6" lengthAdjust="spacingAndGlyphs">200</text>
<text transform="translate(644.0,1165.9) rotate(-90)" style="font-family:'Liberation Sans',sans-serif;font-size:17px;font-weight:normal" fill="#333" text-anchor="middle" textLength="26.6" lengthAdjust="spacingAndGlyphs">300</text>
<text transform="translate(644.0,1097.0) rotate(-90)" style="font-family:'Liberation Sans',sans-serif;font-size:17px;font-weight:normal" fill="#333" text-anchor="middle" textLength="26.6" lengthAdjust="spacingAndGlyphs">400</text>
<text transform="translate(644.0,1028.1) rotate(-90)" style="font-family:'Liberation Sans',sans-serif;font-size:17px;font-weight:normal" fill="#333" text-anchor="middle" textLength="26.6" lengthAdjust="spacingAndGlyphs">500</text>
<line x1="677.8" y1="1372.6" x2="677.8" y2="1382.6" stroke="#222" stroke-width="1.3" stroke-linecap="butt"/>
<line x1="711.7" y1="1372.6" x2="711.7" y2="1382.6" stroke="#222" stroke-width="1.3" stroke-linecap="butt"/>
<line x1="747.4" y1="1372.6" x2="747.4" y2="1382.6" stroke="#222" stroke-width="1.3" stroke-linecap="butt"/>
<line x1="854.6" y1="1372.6" x2="854.6" y2="1382.6" stroke="#222" stroke-width="1.3" stroke-linecap="butt"/>
<line x1="960.0" y1="1372.6" x2="960.0" y2="1382.6" stroke="#222" stroke-width="1.3" stroke-linecap="butt"/>
<line x1="1059.0" y1="1372.6" x2="1059.0" y2="1382.6" stroke="#222" stroke-width="1.3" stroke-linecap="butt"/>
<line x1="775.8" y1="1372.6" x2="775.8" y2="1378.6" stroke="#222" stroke-width="1.2" stroke-linecap="butt"/>
<line x1="795.1" y1="1372.6" x2="795.1" y2="1378.6" stroke="#222" stroke-width="1.2" stroke-linecap="butt"/>
<line x1="809.8" y1="1372.6" x2="809.8" y2="1378.6" stroke="#222" stroke-width="1.2" stroke-linecap="butt"/>
<line x1="821.7" y1="1372.6" x2="821.7" y2="1378.6" stroke="#222" stroke-width="1.2" stroke-linecap="butt"/>
<line x1="830.9" y1="1372.6" x2="830.9" y2="1378.6" stroke="#222" stroke-width="1.2" stroke-linecap="butt"/>
<line x1="839.1" y1="1372.6" x2="839.1" y2="1378.6" stroke="#222" stroke-width="1.2" stroke-linecap="butt"/>
<line x1="845.5" y1="1372.6" x2="845.5" y2="1378.6" stroke="#222" stroke-width="1.2" stroke-linecap="butt"/>
<line x1="850.1" y1="1372.6" x2="850.1" y2="1378.6" stroke="#222" stroke-width="1.2" stroke-linecap="butt"/>
<line x1="887.6" y1="1372.6" x2="887.6" y2="1378.6" stroke="#222" stroke-width="1.2" stroke-linecap="butt"/>
<line x1="905.9" y1="1372.6" x2="905.9" y2="1378.6" stroke="#222" stroke-width="1.2" stroke-linecap="butt"/>
<line x1="918.8" y1="1372.6" x2="918.8" y2="1378.6" stroke="#222" stroke-width="1.2" stroke-linecap="butt"/>
<line x1="928.8" y1="1372.6" x2="928.8" y2="1378.6" stroke="#222" stroke-width="1.2" stroke-linecap="butt"/>
<line x1="937.1" y1="1372.6" x2="937.1" y2="1378.6" stroke="#222" stroke-width="1.2" stroke-linecap="butt"/>
<line x1="943.5" y1="1372.6" x2="943.5" y2="1378.6" stroke="#222" stroke-width="1.2" stroke-linecap="butt"/>
<line x1="949.9" y1="1372.6" x2="949.9" y2="1378.6" stroke="#222" stroke-width="1.2" stroke-linecap="butt"/>
<line x1="955.4" y1="1372.6" x2="955.4" y2="1378.6" stroke="#222" stroke-width="1.2" stroke-linecap="butt"/>
<line x1="990.3" y1="1372.6" x2="990.3" y2="1378.6" stroke="#222" stroke-width="1.2" stroke-linecap="butt"/>
<line x1="1007.7" y1="1372.6" x2="1007.7" y2="1378.6" stroke="#222" stroke-width="1.2" stroke-linecap="butt"/>
<line x1="1019.6" y1="1372.6" x2="1019.6" y2="1378.6" stroke="#222" stroke-width="1.2" stroke-linecap="butt"/>
<line x1="1029.7" y1="1372.6" x2="1029.7" y2="1378.6" stroke="#222" stroke-width="1.2" stroke-linecap="butt"/>
<line x1="1037.9" y1="1372.6" x2="1037.9" y2="1378.6" stroke="#222" stroke-width="1.2" stroke-linecap="butt"/>
<line x1="1044.3" y1="1372.6" x2="1044.3" y2="1378.6" stroke="#222" stroke-width="1.2" stroke-linecap="butt"/>
<line x1="1049.9" y1="1372.6" x2="1049.9" y2="1378.6" stroke="#222" stroke-width="1.2" stroke-linecap="butt"/>
<line x1="1054.4" y1="1372.6" x2="1054.4" y2="1378.6" stroke="#222" stroke-width="1.2" stroke-linecap="butt"/>
<line x1="1090.2" y1="1372.6" x2="1090.2" y2="1378.6" stroke="#222" stroke-width="1.2" stroke-linecap="butt"/>
<line x1="680.5" y1="1372.6" x2="680.5" y2="1379.6" stroke="#666" stroke-width="0.9" stroke-linecap="butt"/>
<line x1="683.2" y1="1372.6" x2="683.2" y2="1379.6" stroke="#666" stroke-width="0.9" stroke-linecap="butt"/>
<line x1="686.0" y1="1372.6" x2="686.0" y2="1379.6" stroke="#666" stroke-width="0.9" stroke-linecap="butt"/>
<line x1="688.8" y1="1372.6" x2="688.8" y2="1379.6" stroke="#666" stroke-width="0.9" stroke-linecap="butt"/>
<line x1="691.5" y1="1372.6" x2="691.5" y2="1379.6" stroke="#666" stroke-width="0.9" stroke-linecap="butt"/>
<line x1="694.2" y1="1372.6" x2="694.2" y2="1379.6" stroke="#666" stroke-width="0.9" stroke-linecap="butt"/>
<line x1="697.0" y1="1372.6" x2="697.0" y2="1379.6" stroke="#666" stroke-width="0.9" stroke-linecap="butt"/>
<line x1="699.8" y1="1372.6" x2="699.8" y2="1379.6" stroke="#666" stroke-width="0.9" stroke-linecap="butt"/>
<line x1="702.5" y1="1372.6" x2="702.5" y2="1379.6" stroke="#666" stroke-width="0.9" stroke-linecap="butt"/>
<line x1="705.2" y1="1372.6" x2="705.2" y2="1379.6" stroke="#666" stroke-width="0.9" stroke-linecap="butt"/>
<line x1="708.0" y1="1372.6" x2="708.0" y2="1379.6" stroke="#666" stroke-width="0.9" stroke-linecap="butt"/>
<line x1="710.8" y1="1372.6" x2="710.8" y2="1381.6" stroke="#666" stroke-width="0.9" stroke-linecap="butt"/>
<line x1="713.5" y1="1372.6" x2="713.5" y2="1381.6" stroke="#666" stroke-width="0.9" stroke-linecap="butt"/>
<line x1="716.2" y1="1372.6" x2="716.2" y2="1381.6" stroke="#666" stroke-width="0.9" stroke-linecap="butt"/>
<line x1="719.0" y1="1372.6" x2="719.0" y2="1379.6" stroke="#666" stroke-width="0.9" stroke-linecap="butt"/>
<line x1="721.8" y1="1372.6" x2="721.8" y2="1379.6" stroke="#666" stroke-width="0.9" stroke-linecap="butt"/>
<line x1="724.5" y1="1372.6" x2="724.5" y2="1379.6" stroke="#666" stroke-width="0.9" stroke-linecap="butt"/>
<line x1="727.2" y1="1372.6" x2="727.2" y2="1379.6" stroke="#666" stroke-width="0.9" stroke-linecap="butt"/>
<line x1="730.0" y1="1372.6" x2="730.0" y2="1379.6" stroke="#666" stroke-width="0.9" stroke-linecap="butt"/>
<line x1="732.8" y1="1372.6" x2="732.8" y2="1379.6" stroke="#666" stroke-width="0.9" stroke-linecap="butt"/>
<line x1="735.5" y1="1372.6" x2="735.5" y2="1379.6" stroke="#666" stroke-width="0.9" stroke-linecap="butt"/>
<line x1="738.2" y1="1372.6" x2="738.2" y2="1379.6" stroke="#666" stroke-width="0.9" stroke-linecap="butt"/>
<line x1="741.0" y1="1372.6" x2="741.0" y2="1379.6" stroke="#666" stroke-width="0.9" stroke-linecap="butt"/>
<line x1="743.8" y1="1372.6" x2="743.8" y2="1379.6" stroke="#666" stroke-width="0.9" stroke-linecap="butt"/>
<line x1="746.5" y1="1372.6" x2="746.5" y2="1379.6" stroke="#666" stroke-width="0.9" stroke-linecap="butt"/>
<text x="634.7" y="1407.0" style="font-family:'Liberation Sans',sans-serif;font-size:16.3px;font-weight:normal" fill="#333" text-anchor="start" textLength="35.2" lengthAdjust="spacingAndGlyphs" >-188</text>
<text x="708.6" y="1400.6" style="font-family:'Liberation Sans',sans-serif;font-size:16.3px;font-weight:normal" fill="#333" text-anchor="start" textLength="7.7" lengthAdjust="spacingAndGlyphs" >0</text>
<text x="734.6" y="1400.6" style="font-family:'Liberation Sans',sans-serif;font-size:16.3px;font-weight:normal" fill="#333" text-anchor="start" textLength="16.4" lengthAdjust="spacingAndGlyphs" >10</text>
<text x="753.2" y="1390.8" style="font-family:'Liberation Sans',sans-serif;font-size:15.5px;font-weight:normal" fill="#333" text-anchor="start" textLength="7.6" lengthAdjust="spacingAndGlyphs" >2</text>
<text x="841.9" y="1400.6" style="font-family:'Liberation Sans',sans-serif;font-size:16.3px;font-weight:normal" fill="#333" text-anchor="start" textLength="16.4" lengthAdjust="spacingAndGlyphs" >10</text>
<text x="860.5" y="1390.8" style="font-family:'Liberation Sans',sans-serif;font-size:15.5px;font-weight:normal" fill="#333" text-anchor="start" textLength="7.6" lengthAdjust="spacingAndGlyphs" >3</text>
<text x="949.0" y="1400.6" style="font-family:'Liberation Sans',sans-serif;font-size:16.3px;font-weight:normal" fill="#333" text-anchor="start" textLength="16.4" lengthAdjust="spacingAndGlyphs" >10</text>
<text x="967.6" y="1390.8" style="font-family:'Liberation Sans',sans-serif;font-size:15.5px;font-weight:normal" fill="#333" text-anchor="start" textLength="7.6" lengthAdjust="spacingAndGlyphs" >4</text>
<text x="1047.5" y="1400.6" style="font-family:'Liberation Sans',sans-serif;font-size:16.3px;font-weight:normal" fill="#333" text-anchor="start" textLength="16.4" lengthAdjust="spacingAndGlyphs" >10</text>
<text x="1066.1" y="1390.8" style="font-family:'Liberation Sans',sans-serif;font-size:15.5px;font-weight:normal" fill="#333" text-anchor="start" textLength="7.6" lengthAdjust="spacingAndGlyphs" >5</text>
<text x="663.8" y="1012.9" style="font-family:'Liberation Sans',sans-serif;font-size:34.3px;font-weight:bold" fill="#000" text-anchor="start" textLength="24.3" lengthAdjust="spacingAndGlyphs" >H</text>
<path d="M165.9,1372.5 C166.9,1371.4 169.2,1369.8 171.8,1365.7 C174.4,1361.6 178.5,1352.8 181.3,1347.9 C184.1,1343.0 186.7,1341.0 188.4,1336.1 C190.1,1331.2 190.4,1325.2 191.4,1318.3 C192.4,1311.4 193.2,1301.0 194.3,1294.7 C195.4,1288.4 196.7,1284.5 197.9,1280.5 C199.1,1276.5 200.6,1275.5 201.4,1271.0 C202.2,1266.5 201.9,1261.2 202.6,1253.3 C203.3,1245.4 204.7,1232.6 205.6,1223.7 C206.5,1214.8 206.9,1208.1 207.8,1200.0 C208.7,1191.9 209.5,1184.8 210.8,1175.0 C212.1,1165.2 213.9,1150.4 215.6,1141.0 C217.2,1131.6 219.1,1124.5 220.7,1118.4 C222.3,1112.3 223.6,1107.6 225.0,1104.3 C226.4,1101.0 228.0,1100.7 229.2,1098.6 C230.4,1096.5 231.1,1090.1 232.0,1091.5 C232.9,1092.9 233.5,1100.7 234.9,1107.1 C236.3,1113.5 238.6,1117.5 240.5,1129.7 C242.4,1142.0 244.5,1166.9 246.2,1180.6 C247.8,1194.3 249.3,1203.8 250.4,1212.0 C251.5,1220.2 252.2,1223.4 253.0,1230.0 C253.8,1236.6 254.4,1243.6 255.3,1251.6 C256.2,1259.6 257.3,1270.0 258.4,1277.9 C259.4,1285.8 260.6,1292.8 261.6,1298.9 C262.7,1305.0 263.6,1309.4 264.7,1314.7 C265.8,1320.0 266.7,1324.3 267.9,1330.5 C269.1,1336.7 270.9,1346.8 272.1,1351.6 C273.3,1356.3 273.6,1356.7 275.3,1359.0 C277.1,1361.3 279.6,1363.4 282.6,1365.3 C285.6,1367.2 289.7,1369.4 293.2,1370.5 C296.7,1371.6 300.1,1371.8 303.7,1372.1 C307.3,1372.4 310.6,1372.3 315.0,1372.2 C319.4,1372.1 326.2,1372.0 330.4,1371.5 C334.6,1371.0 337.1,1370.1 340.0,1369.0 C342.9,1367.9 345.5,1366.2 348.0,1365.0 C350.5,1363.8 352.9,1362.3 355.0,1361.5 C357.1,1360.7 358.8,1360.0 360.8,1360.0 C362.8,1360.0 364.6,1360.7 367.0,1361.5 C369.4,1362.3 372.2,1363.6 375.0,1365.0 C377.8,1366.4 381.3,1368.8 384.0,1370.0 C386.7,1371.2 390.1,1372.1 391.3,1372.5 L391.3,1372.8 L165.9,1372.8 Z" fill="#ff6e6e" fill-opacity="1" stroke="none"/>
<path d="M165.9,1372.5 C166.9,1371.4 169.2,1369.8 171.8,1365.7 C174.4,1361.6 178.5,1352.8 181.3,1347.9 C184.1,1343.0 186.7,1341.0 188.4,1336.1 C190.1,1331.2 190.4,1325.2 191.4,1318.3 C192.4,1311.4 193.2,1301.0 194.3,1294.7 C195.4,1288.4 196.7,1284.5 197.9,1280.5 C199.1,1276.5 200.6,1275.5 201.4,1271.0 C202.2,1266.5 201.9,1261.2 202.6,1253.3 C203.3,1245.4 204.7,1232.6 205.6,1223.7 C206.5,1214.8 206.9,1208.1 207.8,1200.0 C208.7,1191.9 209.5,1184.8 210.8,1175.0 C212.1,1165.2 213.9,1150.4 215.6,1141.0 C217.2,1131.6 219.1,1124.5 220.7,1118.4 C222.3,1112.3 223.6,1107.6 225.0,1104.3 C226.4,1101.0 228.0,1100.7 229.2,1098.6 C230.4,1096.5 231.1,1090.1 232.0,1091.5 C232.9,1092.9 233.5,1100.7 234.9,1107.1 C236.3,1113.5 238.6,1117.5 240.5,1129.7 C242.4,1142.0 244.5,1166.9 246.2,1180.6 C247.8,1194.3 249.3,1203.8 250.4,1212.0 C251.5,1220.2 252.2,1223.4 253.0,1230.0 C253.8,1236.6 254.4,1243.6 255.3,1251.6 C256.2,1259.6 257.3,1270.0 258.4,1277.9 C259.4,1285.8 260.6,1292.8 261.6,1298.9 C262.7,1305.0 263.6,1309.4 264.7,1314.7 C265.8,1320.0 266.7,1324.3 267.9,1330.5 C269.1,1336.7 270.9,1346.8 272.1,1351.6 C273.3,1356.3 273.6,1356.7 275.3,1359.0 C277.1,1361.3 279.6,1363.4 282.6,1365.3 C285.6,1367.2 289.7,1369.4 293.2,1370.5 C296.7,1371.6 300.1,1371.8 303.7,1372.1 C307.3,1372.4 310.6,1372.3 315.0,1372.2 C319.4,1372.1 326.2,1372.0 330.4,1371.5 C334.6,1371.0 337.1,1370.1 340.0,1369.0 C342.9,1367.9 345.5,1366.2 348.0,1365.0 C350.5,1363.8 352.9,1362.3 355.0,1361.5 C357.1,1360.7 358.8,1360.0 360.8,1360.0 C362.8,1360.0 364.6,1360.7 367.0,1361.5 C369.4,1362.3 372.2,1363.6 375.0,1365.0 C377.8,1366.4 381.3,1368.8 384.0,1370.0 C386.7,1371.2 390.1,1372.1 391.3,1372.5" fill="none" stroke="#a0202a" stroke-width="1.0" stroke-dasharray="1.2,1.2" stroke-linejoin="round"/>
<path d="M171.8,1372.5 C173.8,1371.4 180.5,1370.8 183.7,1365.7 C186.9,1360.6 188.8,1351.9 190.8,1342.0 C192.8,1332.1 193.9,1316.4 195.5,1306.5 C197.1,1296.6 199.0,1290.7 200.2,1282.8 C201.4,1274.9 201.7,1269.0 202.6,1259.2 C203.5,1249.4 204.8,1233.6 205.6,1223.7 C206.4,1213.8 206.7,1208.6 207.3,1200.0 C207.9,1191.4 208.5,1183.9 209.4,1172.2 C210.3,1160.5 211.6,1146.2 212.8,1129.7 C214.0,1113.2 215.2,1090.6 216.5,1073.2 C217.8,1055.8 219.4,1037.8 220.7,1025.1 C222.0,1012.4 223.1,1003.4 224.1,996.8 C225.1,990.2 225.7,989.5 226.4,985.5 C227.2,981.5 227.7,971.8 228.6,972.7 C229.5,973.6 230.7,984.7 232.0,991.1 C233.3,997.5 235.0,1002.9 236.3,1010.9 C237.6,1018.9 238.8,1026.5 240.0,1039.2 C241.2,1051.9 242.4,1072.2 243.4,1087.3 C244.4,1102.4 245.3,1113.2 246.2,1129.7 C247.1,1146.2 248.2,1171.2 249.0,1186.3 C249.8,1201.3 249.8,1203.9 251.0,1220.0 C252.2,1236.1 254.5,1265.5 256.3,1283.0 C258.1,1300.5 259.9,1314.5 261.6,1325.0 C263.4,1335.5 265.2,1338.9 266.8,1346.0 C268.4,1353.1 269.8,1363.0 271.0,1367.4 C272.2,1371.8 273.5,1371.7 274.0,1372.5 L274.0,1372.8 L171.8,1372.8 Z" fill="#6cd46c" fill-opacity="1" stroke="none"/>
<path d="M171.8,1372.5 C173.8,1371.4 180.5,1370.8 183.7,1365.7 C186.9,1360.6 188.8,1351.9 190.8,1342.0 C192.8,1332.1 193.9,1316.4 195.5,1306.5 C197.1,1296.6 199.0,1290.7 200.2,1282.8 C201.4,1274.9 201.7,1269.0 202.6,1259.2 C203.5,1249.4 204.8,1233.6 205.6,1223.7 C206.4,1213.8 206.7,1208.6 207.3,1200.0 C207.9,1191.4 208.5,1183.9 209.4,1172.2 C210.3,1160.5 211.6,1146.2 212.8,1129.7 C214.0,1113.2 215.2,1090.6 216.5,1073.2 C217.8,1055.8 219.4,1037.8 220.7,1025.1 C222.0,1012.4 223.1,1003.4 224.1,996.8 C225.1,990.2 225.7,989.5 226.4,985.5 C227.2,981.5 227.7,971.8 228.6,972.7 C229.5,973.6 230.7,984.7 232.0,991.1 C233.3,997.5 235.0,1002.9 236.3,1010.9 C237.6,1018.9 238.8,1026.5 240.0,1039.2 C241.2,1051.9 242.4,1072.2 243.4,1087.3 C244.4,1102.4 245.3,1113.2 246.2,1129.7 C247.1,1146.2 248.2,1171.2 249.0,1186.3 C249.8,1201.3 249.8,1203.9 251.0,1220.0 C252.2,1236.1 254.5,1265.5 256.3,1283.0 C258.1,1300.5 259.9,1314.5 261.6,1325.0 C263.4,1335.5 265.2,1338.9 266.8,1346.0 C268.4,1353.1 269.8,1363.0 271.0,1367.4 C272.2,1371.8 273.5,1371.7 274.0,1372.5" fill="none" stroke="#2aa52a" stroke-width="1.0" stroke-linejoin="round"/>
<clipPath id="gclip"><path d="M171.8,1372.5 C173.8,1371.4 180.5,1370.8 183.7,1365.7 C186.9,1360.6 188.8,1351.9 190.8,1342.0 C192.8,1332.1 193.9,1316.4 195.5,1306.5 C197.1,1296.6 199.0,1290.7 200.2,1282.8 C201.4,1274.9 201.7,1269.0 202.6,1259.2 C203.5,1249.4 204.8,1233.6 205.6,1223.7 C206.4,1213.8 206.7,1208.6 207.3,1200.0 C207.9,1191.4 208.5,1183.9 209.4,1172.2 C210.3,1160.5 211.6,1146.2 212.8,1129.7 C214.0,1113.2 215.2,1090.6 216.5,1073.2 C217.8,1055.8 219.4,1037.8 220.7,1025.1 C222.0,1012.4 223.1,1003.4 224.1,996.8 C225.1,990.2 225.7,989.5 226.4,985.5 C227.2,981.5 227.7,971.8 228.6,972.7 C229.5,973.6 230.7,984.7 232.0,991.1 C233.3,997.5 235.0,1002.9 236.3,1010.9 C237.6,1018.9 238.8,1026.5 240.0,1039.2 C241.2,1051.9 242.4,1072.2 243.4,1087.3 C244.4,1102.4 245.3,1113.2 246.2,1129.7 C247.1,1146.2 248.2,1171.2 249.0,1186.3 C249.8,1201.3 249.8,1203.9 251.0,1220.0 C252.2,1236.1 254.5,1265.5 256.3,1283.0 C258.1,1300.5 259.9,1314.5 261.6,1325.0 C263.4,1335.5 265.2,1338.9 266.8,1346.0 C268.4,1353.1 269.8,1363.0 271.0,1367.4 C272.2,1371.8 273.5,1371.7 274.0,1372.5 L274,1372.8 L171.8,1372.8 Z"/></clipPath>
<path clip-path="url(#gclip)" d="M165.9,1372.5 C166.9,1371.4 169.2,1369.8 171.8,1365.7 C174.4,1361.6 178.5,1352.8 181.3,1347.9 C184.1,1343.0 186.7,1341.0 188.4,1336.1 C190.1,1331.2 190.4,1325.2 191.4,1318.3 C192.4,1311.4 193.2,1301.0 194.3,1294.7 C195.4,1288.4 196.7,1284.5 197.9,1280.5 C199.1,1276.5 200.6,1275.5 201.4,1271.0 C202.2,1266.5 201.9,1261.2 202.6,1253.3 C203.3,1245.4 204.7,1232.6 205.6,1223.7 C206.5,1214.8 206.9,1208.1 207.8,1200.0 C208.7,1191.9 209.5,1184.8 210.8,1175.0 C212.1,1165.2 213.9,1150.4 215.6,1141.0 C217.2,1131.6 219.1,1124.5 220.7,1118.4 C222.3,1112.3 223.6,1107.6 225.0,1104.3 C226.4,1101.0 228.0,1100.7 229.2,1098.6 C230.4,1096.5 231.1,1090.1 232.0,1091.5 C232.9,1092.9 233.5,1100.7 234.9,1107.1 C236.3,1113.5 238.6,1117.5 240.5,1129.7 C242.4,1142.0 244.5,1166.9 246.2,1180.6 C247.8,1194.3 249.3,1203.8 250.4,1212.0 C251.5,1220.2 252.2,1223.4 253.0,1230.0 C253.8,1236.6 254.4,1243.6 255.3,1251.6 C256.2,1259.6 257.3,1270.0 258.4,1277.9 C259.4,1285.8 260.6,1292.8 261.6,1298.9 C262.7,1305.0 263.6,1309.4 264.7,1314.7 C265.8,1320.0 266.7,1324.3 267.9,1330.5 C269.1,1336.7 270.9,1346.8 272.1,1351.6 C273.3,1356.3 273.6,1356.7 275.3,1359.0 C277.1,1361.3 279.6,1363.4 282.6,1365.3 C285.6,1367.2 289.7,1369.4 293.2,1370.5 C296.7,1371.6 300.1,1371.8 303.7,1372.1 C307.3,1372.4 310.6,1372.3 315.0,1372.2 C319.4,1372.1 326.2,1372.0 330.4,1371.5 C334.6,1371.0 337.1,1370.1 340.0,1369.0 C342.9,1367.9 345.5,1366.2 348.0,1365.0 C350.5,1363.8 352.9,1362.3 355.0,1361.5 C357.1,1360.7 358.8,1360.0 360.8,1360.0 C362.8,1360.0 364.6,1360.7 367.0,1361.5 C369.4,1362.3 372.2,1363.6 375.0,1365.0 C377.8,1366.4 381.3,1368.8 384.0,1370.0 C386.7,1371.2 390.1,1372.1 391.3,1372.5 L391.3,1372.8 L165.6,1372.8 Z" fill="#c65a2c" stroke="#a0202a" stroke-width="1" stroke-dasharray="1.2,1.2"/>
<path d="M687.3,1372.5 L690.0,1371.0 L694.6,1367.8 L698.0,1364.0 L701.9,1360.5 L705.0,1358.0 L709.2,1353.2 L712.0,1349.0 L715.3,1341.1 L717.0,1338.0 L720.2,1326.5 L722.0,1324.0 L726.3,1311.9 L729.0,1300.0 L731.1,1290.0 L733.0,1280.0 L736.0,1253.4 L738.0,1262.0 L740.9,1265.6 L742.0,1255.0 L744.5,1246.1 L746.0,1238.0 L748.2,1216.9 L749.5,1212.0 L750.6,1202.3 L753.0,1192.0 L755.5,1180.4 L758.0,1170.0 L760.3,1158.5 L762.0,1148.0 L763.7,1138.5 L764.9,1106.9 L766.9,1093.5 L767.5,1104.0 L769.0,1100.0 L770.4,1060.3 L771.6,1071.3 L772.4,1088.0 L773.2,1091.1 L775.5,1081.6 L776.5,1090.0 L778.7,1105.3 L780.0,1080.0 L781.6,1029.9 L783.0,1057.1 L784.0,1080.0 L785.0,1091.1 L786.6,1085.6 L787.8,1101.4 L789.0,1085.0 L790.3,1067.0 L791.7,1085.6 L792.9,1109.3 L794.5,1114.8 L796.1,1127.4 L798.1,1138.5 L800.5,1156.1 L802.0,1166.0 L804.1,1185.3 L805.0,1190.0 L806.6,1216.9 L808.0,1232.0 L810.2,1253.4 L812.0,1272.0 L813.9,1290.0 L815.0,1296.0 L817.5,1307.0 L819.0,1315.0 L821.4,1320.0 L823.1,1331.3 L824.8,1339.7 L827.6,1351.0 L831.0,1357.0 L835.0,1362.0 L840.0,1367.0 L845.0,1371.0 L848.0,1372.6 L848.0,1372.6 L687.3,1372.6 Z" fill="#6cd46c" stroke="none"/>
<path d="M687.3,1372.5 L690.0,1371.0 L694.6,1367.8 L698.0,1364.0 L701.9,1360.5 L705.0,1358.0 L709.2,1353.2 L712.0,1349.0 L715.3,1341.1 L717.0,1338.0 L720.2,1326.5 L722.0,1324.0 L726.3,1311.9 L729.0,1300.0 L731.1,1290.0 L733.0,1280.0 L736.0,1253.4 L738.0,1262.0 L740.9,1265.6 L742.0,1255.0 L744.5,1246.1 L746.0,1238.0 L748.2,1216.9 L749.5,1212.0 L750.6,1202.3 L753.0,1192.0 L755.5,1180.4 L758.0,1170.0 L760.3,1158.5 L762.0,1148.0 L763.7,1138.5 L764.9,1106.9 L766.9,1093.5 L767.5,1104.0 L769.0,1100.0 L770.4,1060.3 L771.6,1071.3 L772.4,1088.0 L773.2,1091.1 L775.5,1081.6 L776.5,1090.0 L778.7,1105.3 L780.0,1080.0 L781.6,1029.9 L783.0,1057.1 L784.0,1080.0 L785.0,1091.1 L786.6,1085.6 L787.8,1101.4 L789.0,1085.0 L790.3,1067.0 L791.7,1085.6 L792.9,1109.3 L794.5,1114.8 L796.1,1127.4 L798.1,1138.5 L800.5,1156.1 L802.0,1166.0 L804.1,1185.3 L805.0,1190.0 L806.6,1216.9 L808.0,1232.0 L810.2,1253.4 L812.0,1272.0 L813.9,1290.0 L815.0,1296.0 L817.5,1307.0 L819.0,1315.0 L821.4,1320.0 L823.1,1331.3 L824.8,1339.7 L827.6,1351.0 L831.0,1357.0 L835.0,1362.0 L840.0,1367.0 L845.0,1371.0 L848.0,1372.6" fill="none" stroke="#2aa52a" stroke-width="1.0" stroke-linejoin="round"/>
<path d="M828.5,1372.6 L829.0,1355.0 L829.8,1346.0 L831.0,1343.7 L832.5,1347.0 L833.9,1348.2 L835.3,1351.0 L836.7,1353.3 L838.5,1351.0 L840.0,1352.0 L842.3,1351.0 L844.0,1349.0 L845.5,1351.0 L847.4,1348.2 L849.0,1352.0 L850.8,1356.1 L852.0,1348.0 L853.6,1344.8 L855.5,1345.0 L857.5,1342.6 L859.0,1346.0 L860.4,1349.9 L862.0,1346.0 L864.9,1347.1 L867.0,1341.0 L870.0,1335.8 L872.0,1338.0 L874.0,1337.0 L876.2,1339.2 L878.0,1330.0 L879.0,1322.8 L880.5,1325.0 L882.2,1319.2 L884.0,1308.0 L886.3,1297.1 L888.0,1290.0 L890.5,1277.8 L892.5,1262.0 L894.6,1250.1 L896.5,1230.0 L898.8,1208.7 L900.5,1190.0 L902.9,1170.0 L904.0,1166.0 L905.0,1155.0 L907.0,1139.6 L908.5,1110.0 L909.8,1084.3 L911.7,1029.1 L913.5,1010.0 L915.3,1001.4 L917.0,990.0 L918.5,980.0 L920.9,969.7 L922.5,972.0 L923.5,980.0 L924.5,972.0 L926.4,976.6 L928.0,990.0 L930.5,1009.7 L932.0,1028.0 L933.3,1042.9 L934.7,1070.0 L936.1,1092.6 L937.5,1112.0 L938.8,1131.3 L940.2,1153.0 L941.6,1175.5 L943.0,1200.0 L944.3,1225.3 L945.7,1245.0 L947.1,1264.0 L949.0,1290.0 L951.3,1319.2 L953.5,1338.0 L955.4,1352.4 L958.0,1364.0 L960.9,1370.3 L962.0,1372.6 L962.0,1372.6 L828.5,1372.6 Z" fill="#ff6e6e" stroke="none"/>
<path d="M828.5,1372.6 L829.0,1355.0 L829.8,1346.0 L831.0,1343.7 L832.5,1347.0 L833.9,1348.2 L835.3,1351.0 L836.7,1353.3 L838.5,1351.0 L840.0,1352.0 L842.3,1351.0 L844.0,1349.0 L845.5,1351.0 L847.4,1348.2 L849.0,1352.0 L850.8,1356.1 L852.0,1348.0 L853.6,1344.8 L855.5,1345.0 L857.5,1342.6 L859.0,1346.0 L860.4,1349.9 L862.0,1346.0 L864.9,1347.1 L867.0,1341.0 L870.0,1335.8 L872.0,1338.0 L874.0,1337.0 L876.2,1339.2 L878.0,1330.0 L879.0,1322.8 L880.5,1325.0 L882.2,1319.2 L884.0,1308.0 L886.3,1297.1 L888.0,1290.0 L890.5,1277.8 L892.5,1262.0 L894.6,1250.1 L896.5,1230.0 L898.8,1208.7 L900.5,1190.0 L902.9,1170.0 L904.0,1166.0 L905.0,1155.0 L907.0,1139.6 L908.5,1110.0 L909.8,1084.3 L911.7,1029.1 L913.5,1010.0 L915.3,1001.4 L917.0,990.0 L918.5,980.0 L920.9,969.7 L922.5,972.0 L923.5,980.0 L924.5,972.0 L926.4,976.6 L928.0,990.0 L930.5,1009.7 L932.0,1028.0 L933.3,1042.9 L934.7,1070.0 L936.1,1092.6 L937.5,1112.0 L938.8,1131.3 L940.2,1153.0 L941.6,1175.5 L943.0,1200.0 L944.3,1225.3 L945.7,1245.0 L947.1,1264.0 L949.0,1290.0 L951.3,1319.2 L953.5,1338.0 L955.4,1352.4 L958.0,1364.0 L960.9,1370.3 L962.0,1372.6" fill="none" stroke="#a0202a" stroke-width="1.0" stroke-dasharray="1.2,1.2" stroke-linejoin="round"/>
<clipPath id="hclip"><path d="M687.3,1372.5 L690.0,1371.0 L694.6,1367.8 L698.0,1364.0 L701.9,1360.5 L705.0,1358.0 L709.2,1353.2 L712.0,1349.0 L715.3,1341.1 L717.0,1338.0 L720.2,1326.5 L722.0,1324.0 L726.3,1311.9 L729.0,1300.0 L731.1,1290.0 L733.0,1280.0 L736.0,1253.4 L738.0,1262.0 L740.9,1265.6 L742.0,1255.0 L744.5,1246.1 L746.0,1238.0 L748.2,1216.9 L749.5,1212.0 L750.6,1202.3 L753.0,1192.0 L755.5,1180.4 L758.0,1170.0 L760.3,1158.5 L762.0,1148.0 L763.7,1138.5 L764.9,1106.9 L766.9,1093.5 L767.5,1104.0 L769.0,1100.0 L770.4,1060.3 L771.6,1071.3 L772.4,1088.0 L773.2,1091.1 L775.5,1081.6 L776.5,1090.0 L778.7,1105.3 L780.0,1080.0 L781.6,1029.9 L783.0,1057.1 L784.0,1080.0 L785.0,1091.1 L786.6,1085.6 L787.8,1101.4 L789.0,1085.0 L790.3,1067.0 L791.7,1085.6 L792.9,1109.3 L794.5,1114.8 L796.1,1127.4 L798.1,1138.5 L800.5,1156.1 L802.0,1166.0 L804.1,1185.3 L805.0,1190.0 L806.6,1216.9 L808.0,1232.0 L810.2,1253.4 L812.0,1272.0 L813.9,1290.0 L815.0,1296.0 L817.5,1307.0 L819.0,1315.0 L821.4,1320.0 L823.1,1331.3 L824.8,1339.7 L827.6,1351.0 L831.0,1357.0 L835.0,1362.0 L840.0,1367.0 L845.0,1371.0 L848.0,1372.6 L848,1372.6 L687.3,1372.6 Z"/></clipPath>
<path clip-path="url(#hclip)" d="M828.5,1372.6 L829.0,1355.0 L829.8,1346.0 L831.0,1343.7 L832.5,1347.0 L833.9,1348.2 L835.3,1351.0 L836.7,1353.3 L838.5,1351.0 L840.0,1352.0 L842.3,1351.0 L844.0,1349.0 L845.5,1351.0 L847.4,1348.2 L849.0,1352.0 L850.8,1356.1 L852.0,1348.0 L853.6,1344.8 L855.5,1345.0 L857.5,1342.6 L859.0,1346.0 L860.4,1349.9 L862.0,1346.0 L864.9,1347.1 L867.0,1341.0 L870.0,1335.8 L872.0,1338.0 L874.0,1337.0 L876.2,1339.2 L878.0,1330.0 L879.0,1322.8 L880.5,1325.0 L882.2,1319.2 L884.0,1308.0 L886.3,1297.1 L888.0,1290.0 L890.5,1277.8 L892.5,1262.0 L894.6,1250.1 L896.5,1230.0 L898.8,1208.7 L900.5,1190.0 L902.9,1170.0 L904.0,1166.0 L905.0,1155.0 L907.0,1139.6 L908.5,1110.0 L909.8,1084.3 L911.7,1029.1 L913.5,1010.0 L915.3,1001.4 L917.0,990.0 L918.5,980.0 L920.9,969.7 L922.5,972.0 L923.5,980.0 L924.5,972.0 L926.4,976.6 L928.0,990.0 L930.5,1009.7 L932.0,1028.0 L933.3,1042.9 L934.7,1070.0 L936.1,1092.6 L937.5,1112.0 L938.8,1131.3 L940.2,1153.0 L941.6,1175.5 L943.0,1200.0 L944.3,1225.3 L945.7,1245.0 L947.1,1264.0 L949.0,1290.0 L951.3,1319.2 L953.5,1338.0 L955.4,1352.4 L958.0,1364.0 L960.9,1370.3 L962.0,1372.6 L962,1372.6 L828.5,1372.6 Z" fill="#c65a2c"/>
<ellipse cx="82.8" cy="961.4" rx="3.9" ry="4.4" fill="#c8f8c8" stroke="#4cb04c" stroke-width="1.9"/>
<ellipse cx="608.6" cy="958.1" rx="3.9" ry="4.4" fill="#c8f8c8" stroke="#4cb04c" stroke-width="1.9"/>
<text x="112.4" y="1386.5" style="font-family:'Liberation Sans',sans-serif;font-size:12.5px;font-weight:bold" fill="#5858a8" text-anchor="start" textLength="11.2" lengthAdjust="spacingAndGlyphs" >M</text>
<line x1="73.2" y1="1430.2" x2="72.8" y2="947.6" stroke="#000" stroke-width="3.4" stroke-linecap="butt"/>
<polyline points="60.5,968.4 72.8,948.1 85.1,968.4" fill="none" stroke="#000" stroke-width="3.4" stroke-linecap="round" stroke-linejoin="miter"/>
<line x1="71.5" y1="1428.4" x2="1154.8" y2="1426.0" stroke="#000" stroke-width="3.4" stroke-linecap="butt"/>
<polyline points="1132.8,1413.2 1154.3,1426.0 1132.8,1438.8" fill="none" stroke="#000" stroke-width="3.4" stroke-linecap="round" stroke-linejoin="miter"/>
<defs><filter id="sh" x="-30%" y="-60%" width="160%" height="260%"><feGaussianBlur stdDeviation="1.6"/></filter></defs>
<rect x="1135.5" y="1062.5" width="36" height="10.5" fill="#888" opacity="0.55" filter="url(#sh)"/>
<rect x="1134.7" y="1057.7" width="35.7" height="10.8" fill="#1db350"/>
<rect x="1134" y="1121" width="36" height="10.5" fill="#888" opacity="0.55" filter="url(#sh)"/>
<rect x="1133.0" y="1116.2" width="36.4" height="10.9" fill="#c84f4f"/>
<text x="1184.7" y="1068.5" style="font-family:'Liberation Serif',serif;font-size:37.7px;font-weight:normal" fill="#000" text-anchor="start" textLength="195.9" lengthAdjust="spacingAndGlyphs" >unstimulated</text>
<text x="1176.4" y="1132.6" style="font-family:'Liberation Serif',serif;font-size:38.0px;font-weight:normal" fill="#000" text-anchor="start" textLength="237.2" lengthAdjust="spacingAndGlyphs" >IL-2 stimulated</text>
<text x="1176.1" y="1177.1" style="font-family:'Liberation Serif',serif;font-size:37.5px;font-weight:normal" fill="#000" text-anchor="start" textLength="133.6" lengthAdjust="spacingAndGlyphs" >(15 min)</text>
</svg>
</body></html>
